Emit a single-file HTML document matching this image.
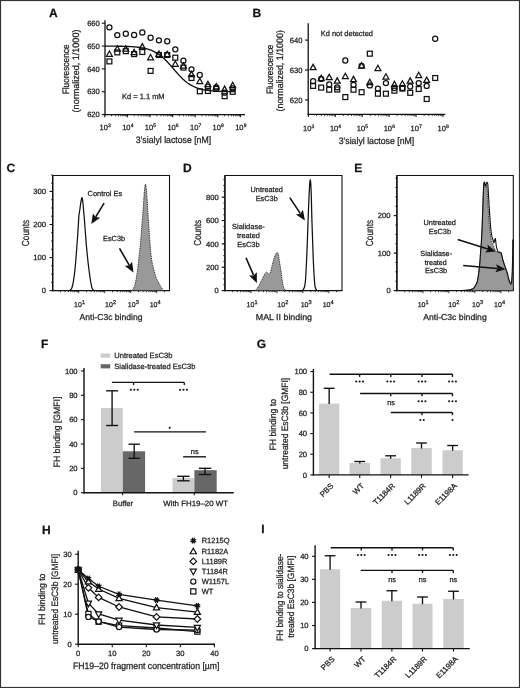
<!DOCTYPE html>
<html><head><meta charset="utf-8"><style>
html,body{margin:0;padding:0;background:#fff;}
svg{display:block;will-change:transform;}
text{font-family:"Liberation Sans",sans-serif;text-rendering:geometricPrecision;stroke:#222;stroke-width:0.25px;}
</style></head><body>
<svg width="520" height="688" viewBox="0 0 520 688">
<rect width="520" height="688" fill="#fff"/>
<text x="49.00" y="16.50" font-size="12" text-anchor="start" font-weight="bold" fill="#111" >A</text>
<text x="252.40" y="16.50" font-size="12" text-anchor="start" font-weight="bold" fill="#111" >B</text>
<text x="6.50" y="172.30" font-size="12" text-anchor="start" font-weight="bold" fill="#111" >C</text>
<text x="183.00" y="171.60" font-size="12" text-anchor="start" font-weight="bold" fill="#111" >D</text>
<text x="354.30" y="171.60" font-size="12" text-anchor="start" font-weight="bold" fill="#111" >E</text>
<text x="41.00" y="348.30" font-size="12" text-anchor="start" font-weight="bold" fill="#111" >F</text>
<text x="256.80" y="348.40" font-size="12" text-anchor="start" font-weight="bold" fill="#111" >G</text>
<text x="42.00" y="533.70" font-size="12" text-anchor="start" font-weight="bold" fill="#111" >H</text>
<text x="261.30" y="533.10" font-size="12" text-anchor="start" font-weight="bold" fill="#111" >I</text>
<line x1="105.00" y1="20.20" x2="105.00" y2="115.20" stroke="#111" stroke-width="1.3" />
<line x1="104.40" y1="114.60" x2="245.00" y2="114.60" stroke="#111" stroke-width="1.3" />
<line x1="101.80" y1="114.60" x2="105.00" y2="114.60" stroke="#111" stroke-width="1.1" />
<text x="99.80" y="117.30" font-size="7.6" text-anchor="end" font-weight="normal" fill="#222" >620</text>
<line x1="101.80" y1="91.75" x2="105.00" y2="91.75" stroke="#111" stroke-width="1.1" />
<text x="99.80" y="94.45" font-size="7.6" text-anchor="end" font-weight="normal" fill="#222" >630</text>
<line x1="101.80" y1="68.90" x2="105.00" y2="68.90" stroke="#111" stroke-width="1.1" />
<text x="99.80" y="71.60" font-size="7.6" text-anchor="end" font-weight="normal" fill="#222" >640</text>
<line x1="101.80" y1="46.05" x2="105.00" y2="46.05" stroke="#111" stroke-width="1.1" />
<text x="99.80" y="48.75" font-size="7.6" text-anchor="end" font-weight="normal" fill="#222" >650</text>
<line x1="101.80" y1="23.20" x2="105.00" y2="23.20" stroke="#111" stroke-width="1.1" />
<text x="99.80" y="25.90" font-size="7.6" text-anchor="end" font-weight="normal" fill="#222" >660</text>
<line x1="104.80" y1="114.60" x2="104.80" y2="117.20" stroke="#111" stroke-width="1.1" />
<text x="99.60" y="129.70" font-size="7.5" text-anchor="start" font-weight="normal" fill="#222" >10</text>
<text x="108.04" y="126.80" font-size="5.0" text-anchor="start" font-weight="normal" fill="#222" >3</text>
<line x1="111.60" y1="114.60" x2="111.60" y2="116.30" stroke="#111" stroke-width="0.8" />
<line x1="115.58" y1="114.60" x2="115.58" y2="116.30" stroke="#111" stroke-width="0.8" />
<line x1="118.41" y1="114.60" x2="118.41" y2="116.30" stroke="#111" stroke-width="0.8" />
<line x1="120.60" y1="114.60" x2="120.60" y2="116.30" stroke="#111" stroke-width="0.8" />
<line x1="122.39" y1="114.60" x2="122.39" y2="116.30" stroke="#111" stroke-width="0.8" />
<line x1="123.90" y1="114.60" x2="123.90" y2="116.30" stroke="#111" stroke-width="0.8" />
<line x1="125.21" y1="114.60" x2="125.21" y2="116.30" stroke="#111" stroke-width="0.8" />
<line x1="126.37" y1="114.60" x2="126.37" y2="116.30" stroke="#111" stroke-width="0.8" />
<line x1="127.40" y1="114.60" x2="127.40" y2="117.20" stroke="#111" stroke-width="1.1" />
<text x="122.20" y="129.70" font-size="7.5" text-anchor="start" font-weight="normal" fill="#222" >10</text>
<text x="130.64" y="126.80" font-size="5.0" text-anchor="start" font-weight="normal" fill="#222" >4</text>
<line x1="134.20" y1="114.60" x2="134.20" y2="116.30" stroke="#111" stroke-width="0.8" />
<line x1="138.18" y1="114.60" x2="138.18" y2="116.30" stroke="#111" stroke-width="0.8" />
<line x1="141.01" y1="114.60" x2="141.01" y2="116.30" stroke="#111" stroke-width="0.8" />
<line x1="143.20" y1="114.60" x2="143.20" y2="116.30" stroke="#111" stroke-width="0.8" />
<line x1="144.99" y1="114.60" x2="144.99" y2="116.30" stroke="#111" stroke-width="0.8" />
<line x1="146.50" y1="114.60" x2="146.50" y2="116.30" stroke="#111" stroke-width="0.8" />
<line x1="147.81" y1="114.60" x2="147.81" y2="116.30" stroke="#111" stroke-width="0.8" />
<line x1="148.97" y1="114.60" x2="148.97" y2="116.30" stroke="#111" stroke-width="0.8" />
<line x1="150.00" y1="114.60" x2="150.00" y2="117.20" stroke="#111" stroke-width="1.1" />
<text x="144.80" y="129.70" font-size="7.5" text-anchor="start" font-weight="normal" fill="#222" >10</text>
<text x="153.24" y="126.80" font-size="5.0" text-anchor="start" font-weight="normal" fill="#222" >5</text>
<line x1="156.80" y1="114.60" x2="156.80" y2="116.30" stroke="#111" stroke-width="0.8" />
<line x1="160.78" y1="114.60" x2="160.78" y2="116.30" stroke="#111" stroke-width="0.8" />
<line x1="163.61" y1="114.60" x2="163.61" y2="116.30" stroke="#111" stroke-width="0.8" />
<line x1="165.80" y1="114.60" x2="165.80" y2="116.30" stroke="#111" stroke-width="0.8" />
<line x1="167.59" y1="114.60" x2="167.59" y2="116.30" stroke="#111" stroke-width="0.8" />
<line x1="169.10" y1="114.60" x2="169.10" y2="116.30" stroke="#111" stroke-width="0.8" />
<line x1="170.41" y1="114.60" x2="170.41" y2="116.30" stroke="#111" stroke-width="0.8" />
<line x1="171.57" y1="114.60" x2="171.57" y2="116.30" stroke="#111" stroke-width="0.8" />
<line x1="172.60" y1="114.60" x2="172.60" y2="117.20" stroke="#111" stroke-width="1.1" />
<text x="167.40" y="129.70" font-size="7.5" text-anchor="start" font-weight="normal" fill="#222" >10</text>
<text x="175.84" y="126.80" font-size="5.0" text-anchor="start" font-weight="normal" fill="#222" >6</text>
<line x1="179.40" y1="114.60" x2="179.40" y2="116.30" stroke="#111" stroke-width="0.8" />
<line x1="183.38" y1="114.60" x2="183.38" y2="116.30" stroke="#111" stroke-width="0.8" />
<line x1="186.21" y1="114.60" x2="186.21" y2="116.30" stroke="#111" stroke-width="0.8" />
<line x1="188.40" y1="114.60" x2="188.40" y2="116.30" stroke="#111" stroke-width="0.8" />
<line x1="190.19" y1="114.60" x2="190.19" y2="116.30" stroke="#111" stroke-width="0.8" />
<line x1="191.70" y1="114.60" x2="191.70" y2="116.30" stroke="#111" stroke-width="0.8" />
<line x1="193.01" y1="114.60" x2="193.01" y2="116.30" stroke="#111" stroke-width="0.8" />
<line x1="194.17" y1="114.60" x2="194.17" y2="116.30" stroke="#111" stroke-width="0.8" />
<line x1="195.20" y1="114.60" x2="195.20" y2="117.20" stroke="#111" stroke-width="1.1" />
<text x="190.00" y="129.70" font-size="7.5" text-anchor="start" font-weight="normal" fill="#222" >10</text>
<text x="198.44" y="126.80" font-size="5.0" text-anchor="start" font-weight="normal" fill="#222" >7</text>
<line x1="202.00" y1="114.60" x2="202.00" y2="116.30" stroke="#111" stroke-width="0.8" />
<line x1="205.98" y1="114.60" x2="205.98" y2="116.30" stroke="#111" stroke-width="0.8" />
<line x1="208.81" y1="114.60" x2="208.81" y2="116.30" stroke="#111" stroke-width="0.8" />
<line x1="211.00" y1="114.60" x2="211.00" y2="116.30" stroke="#111" stroke-width="0.8" />
<line x1="212.79" y1="114.60" x2="212.79" y2="116.30" stroke="#111" stroke-width="0.8" />
<line x1="214.30" y1="114.60" x2="214.30" y2="116.30" stroke="#111" stroke-width="0.8" />
<line x1="215.61" y1="114.60" x2="215.61" y2="116.30" stroke="#111" stroke-width="0.8" />
<line x1="216.77" y1="114.60" x2="216.77" y2="116.30" stroke="#111" stroke-width="0.8" />
<line x1="217.80" y1="114.60" x2="217.80" y2="117.20" stroke="#111" stroke-width="1.1" />
<text x="212.60" y="129.70" font-size="7.5" text-anchor="start" font-weight="normal" fill="#222" >10</text>
<text x="221.04" y="126.80" font-size="5.0" text-anchor="start" font-weight="normal" fill="#222" >8</text>
<line x1="224.60" y1="114.60" x2="224.60" y2="116.30" stroke="#111" stroke-width="0.8" />
<line x1="228.58" y1="114.60" x2="228.58" y2="116.30" stroke="#111" stroke-width="0.8" />
<line x1="231.41" y1="114.60" x2="231.41" y2="116.30" stroke="#111" stroke-width="0.8" />
<line x1="233.60" y1="114.60" x2="233.60" y2="116.30" stroke="#111" stroke-width="0.8" />
<line x1="235.39" y1="114.60" x2="235.39" y2="116.30" stroke="#111" stroke-width="0.8" />
<line x1="236.90" y1="114.60" x2="236.90" y2="116.30" stroke="#111" stroke-width="0.8" />
<line x1="238.21" y1="114.60" x2="238.21" y2="116.30" stroke="#111" stroke-width="0.8" />
<line x1="239.37" y1="114.60" x2="239.37" y2="116.30" stroke="#111" stroke-width="0.8" />
<line x1="240.40" y1="114.60" x2="240.40" y2="117.20" stroke="#111" stroke-width="1.1" />
<text x="235.20" y="129.70" font-size="7.5" text-anchor="start" font-weight="normal" fill="#222" >10</text>
<text x="243.64" y="126.80" font-size="5.0" text-anchor="start" font-weight="normal" fill="#222" >9</text>
<text x="173.50" y="142.70" font-size="9.4" text-anchor="middle" font-weight="normal" fill="#222"  textLength="75.3" lengthAdjust="spacingAndGlyphs">3'sialyl lactose [nM]</text>
<text x="0" y="0" font-size="9.4" text-anchor="middle" fill="#222" transform="translate(68.90,69.40) rotate(-90)" textLength="49.8" lengthAdjust="spacingAndGlyphs">Fluorescence</text>
<text x="0" y="0" font-size="9.4" text-anchor="middle" fill="#222" transform="translate(79.30,71.00) rotate(-90)" textLength="82.8" lengthAdjust="spacingAndGlyphs">(normalized, 1/1000)</text>
<text x="122.00" y="98.60" font-size="7.5" text-anchor="start" font-weight="normal" fill="#222"  textLength="42.6" lengthAdjust="spacingAndGlyphs">Kd = 1.1 mM</text>
<polyline points="105.0,46.09 106.0,46.10 107.0,46.10 108.0,46.11 109.0,46.11 110.0,46.12 111.0,46.13 112.0,46.14 113.0,46.15 114.0,46.16 115.0,46.17 116.0,46.18 117.0,46.19 118.0,46.21 119.0,46.23 120.0,46.24 121.0,46.27 122.0,46.29 123.0,46.31 124.0,46.34 125.0,46.37 126.0,46.41 127.0,46.45 128.0,46.49 129.0,46.53 130.0,46.59 131.0,46.64 132.0,46.70 133.0,46.77 134.0,46.85 135.0,46.93 136.0,47.03 137.0,47.13 138.0,47.24 139.0,47.37 140.0,47.50 141.0,47.65 142.0,47.82 143.0,48.00 144.0,48.20 145.0,48.42 146.0,48.66 147.0,48.92 148.0,49.20 149.0,49.52 150.0,49.86 151.0,50.23 152.0,50.63 153.0,51.07 154.0,51.54 155.0,52.06 156.0,52.61 157.0,53.20 158.0,53.84 159.0,54.52 160.0,55.24 161.0,56.01 162.0,56.83 163.0,57.69 164.0,58.60 165.0,59.55 166.0,60.54 167.0,61.56 168.0,62.62 169.0,63.71 170.0,64.83 171.0,65.96 172.0,67.12 173.0,68.28 174.0,69.44 175.0,70.60 176.0,71.75 177.0,72.89 178.0,74.01 179.0,75.10 180.0,76.16 181.0,77.19 182.0,78.18 183.0,79.14 184.0,80.04 185.0,80.91 186.0,81.73 187.0,82.50 188.0,83.23 189.0,83.92 190.0,84.56 191.0,85.15 192.0,85.71 193.0,86.22 194.0,86.70 195.0,87.14 196.0,87.54 197.0,87.92 198.0,88.26 199.0,88.57 200.0,88.86 201.0,89.13 202.0,89.37 203.0,89.59 204.0,89.79 205.0,89.97 206.0,90.14 207.0,90.29 208.0,90.43 209.0,90.55 210.0,90.66 211.0,90.77 212.0,90.86 213.0,90.94 214.0,91.02 215.0,91.09 216.0,91.15 217.0,91.21 218.0,91.26 219.0,91.31 220.0,91.35 221.0,91.39 222.0,91.42 223.0,91.46 224.0,91.48 225.0,91.51 226.0,91.53 227.0,91.55 228.0,91.57 229.0,91.59 230.0,91.61 231.0,91.62 232.0,91.63 233.0,91.64 234.0,91.65 235.0,91.66" fill="none" stroke="#111" stroke-width="1.35"/>
<circle cx="109.40" cy="27.30" r="2.55" fill="none" stroke="#111" stroke-width="1.25"/>
<polygon points="106.45,56.31 112.35,56.31 109.40,51.00" fill="none" stroke="#111" stroke-width="1.25" stroke-linejoin="miter"/>
<rect x="106.95" y="58.95" width="4.90" height="4.90" fill="none" stroke="#111" stroke-width="1.25"/>
<circle cx="117.30" cy="35.10" r="2.55" fill="none" stroke="#111" stroke-width="1.25"/>
<polygon points="114.35,51.11 120.25,51.11 117.30,45.80" fill="none" stroke="#111" stroke-width="1.25" stroke-linejoin="miter"/>
<rect x="114.85" y="49.95" width="4.90" height="4.90" fill="none" stroke="#111" stroke-width="1.25"/>
<circle cx="125.80" cy="33.70" r="2.55" fill="none" stroke="#111" stroke-width="1.25"/>
<polygon points="122.85,51.21 128.75,51.21 125.80,45.90" fill="none" stroke="#111" stroke-width="1.25" stroke-linejoin="miter"/>
<rect x="123.35" y="48.75" width="4.90" height="4.90" fill="none" stroke="#111" stroke-width="1.25"/>
<circle cx="134.10" cy="35.00" r="2.55" fill="none" stroke="#111" stroke-width="1.25"/>
<polygon points="131.15,54.61 137.05,54.61 134.10,49.30" fill="none" stroke="#111" stroke-width="1.25" stroke-linejoin="miter"/>
<rect x="131.65" y="51.65" width="4.90" height="4.90" fill="none" stroke="#111" stroke-width="1.25"/>
<circle cx="142.30" cy="32.50" r="2.55" fill="none" stroke="#111" stroke-width="1.25"/>
<polygon points="139.35,48.91 145.25,48.91 142.30,43.60" fill="none" stroke="#111" stroke-width="1.25" stroke-linejoin="miter"/>
<rect x="139.85" y="49.55" width="4.90" height="4.90" fill="none" stroke="#111" stroke-width="1.25"/>
<circle cx="150.60" cy="37.70" r="2.55" fill="none" stroke="#111" stroke-width="1.25"/>
<polygon points="147.65,59.81 153.55,59.81 150.60,54.50" fill="none" stroke="#111" stroke-width="1.25" stroke-linejoin="miter"/>
<rect x="148.15" y="68.45" width="4.90" height="4.90" fill="none" stroke="#111" stroke-width="1.25"/>
<circle cx="158.90" cy="40.30" r="2.55" fill="none" stroke="#111" stroke-width="1.25"/>
<polygon points="155.95,56.31 161.85,56.31 158.90,51.00" fill="none" stroke="#111" stroke-width="1.25" stroke-linejoin="miter"/>
<rect x="156.45" y="52.55" width="4.90" height="4.90" fill="none" stroke="#111" stroke-width="1.25"/>
<circle cx="167.20" cy="41.20" r="2.55" fill="none" stroke="#111" stroke-width="1.25"/>
<polygon points="164.25,56.61 170.15,56.61 167.20,51.30" fill="none" stroke="#111" stroke-width="1.25" stroke-linejoin="miter"/>
<rect x="164.75" y="52.55" width="4.90" height="4.90" fill="none" stroke="#111" stroke-width="1.25"/>
<circle cx="175.30" cy="49.30" r="2.55" fill="none" stroke="#111" stroke-width="1.25"/>
<polygon points="172.35,66.31 178.25,66.31 175.30,61.00" fill="none" stroke="#111" stroke-width="1.25" stroke-linejoin="miter"/>
<rect x="172.85" y="55.25" width="4.90" height="4.90" fill="none" stroke="#111" stroke-width="1.25"/>
<circle cx="183.40" cy="60.70" r="2.55" fill="none" stroke="#111" stroke-width="1.25"/>
<polygon points="180.45,68.11 186.35,68.11 183.40,62.80" fill="none" stroke="#111" stroke-width="1.25" stroke-linejoin="miter"/>
<rect x="180.95" y="65.15" width="4.90" height="4.90" fill="none" stroke="#111" stroke-width="1.25"/>
<circle cx="191.50" cy="69.30" r="2.55" fill="none" stroke="#111" stroke-width="1.25"/>
<polygon points="188.55,76.71 194.45,76.71 191.50,71.40" fill="none" stroke="#111" stroke-width="1.25" stroke-linejoin="miter"/>
<rect x="189.05" y="75.55" width="4.90" height="4.90" fill="none" stroke="#111" stroke-width="1.25"/>
<circle cx="199.80" cy="75.00" r="2.55" fill="none" stroke="#111" stroke-width="1.25"/>
<polygon points="196.85,83.61 202.75,83.61 199.80,78.30" fill="none" stroke="#111" stroke-width="1.25" stroke-linejoin="miter"/>
<rect x="197.35" y="88.85" width="4.90" height="4.90" fill="none" stroke="#111" stroke-width="1.25"/>
<circle cx="207.90" cy="86.60" r="2.55" fill="none" stroke="#111" stroke-width="1.25"/>
<polygon points="204.95,86.61 210.85,86.61 207.90,81.30" fill="none" stroke="#111" stroke-width="1.25" stroke-linejoin="miter"/>
<rect x="205.45" y="88.55" width="4.90" height="4.90" fill="none" stroke="#111" stroke-width="1.25"/>
<circle cx="216.20" cy="87.50" r="2.55" fill="none" stroke="#111" stroke-width="1.25"/>
<polygon points="213.25,88.81 219.15,88.81 216.20,83.50" fill="none" stroke="#111" stroke-width="1.25" stroke-linejoin="miter"/>
<rect x="213.75" y="86.45" width="4.90" height="4.90" fill="none" stroke="#111" stroke-width="1.25"/>
<circle cx="224.60" cy="92.70" r="2.55" fill="none" stroke="#111" stroke-width="1.25"/>
<polygon points="221.65,91.41 227.55,91.41 224.60,86.10" fill="none" stroke="#111" stroke-width="1.25" stroke-linejoin="miter"/>
<rect x="222.15" y="93.75" width="4.90" height="4.90" fill="none" stroke="#111" stroke-width="1.25"/>
<circle cx="232.70" cy="88.40" r="2.55" fill="none" stroke="#111" stroke-width="1.25"/>
<polygon points="229.75,87.61 235.65,87.61 232.70,82.30" fill="none" stroke="#111" stroke-width="1.25" stroke-linejoin="miter"/>
<rect x="230.25" y="89.35" width="4.90" height="4.90" fill="none" stroke="#111" stroke-width="1.25"/>
<line x1="308.20" y1="23.30" x2="308.20" y2="115.00" stroke="#111" stroke-width="1.3" />
<line x1="307.60" y1="114.40" x2="445.30" y2="114.40" stroke="#111" stroke-width="1.3" />
<line x1="305.00" y1="99.90" x2="308.20" y2="99.90" stroke="#111" stroke-width="1.1" />
<text x="302.40" y="102.60" font-size="7.6" text-anchor="end" font-weight="normal" fill="#222" >620</text>
<line x1="305.00" y1="70.00" x2="308.20" y2="70.00" stroke="#111" stroke-width="1.1" />
<text x="302.40" y="72.70" font-size="7.6" text-anchor="end" font-weight="normal" fill="#222" >630</text>
<line x1="305.00" y1="40.10" x2="308.20" y2="40.10" stroke="#111" stroke-width="1.1" />
<text x="302.40" y="42.80" font-size="7.6" text-anchor="end" font-weight="normal" fill="#222" >640</text>
<line x1="308.40" y1="114.40" x2="308.40" y2="117.00" stroke="#111" stroke-width="1.1" />
<text x="303.00" y="130.90" font-size="7.5" text-anchor="start" font-weight="normal" fill="#222" >10</text>
<text x="311.44" y="128.00" font-size="5.0" text-anchor="start" font-weight="normal" fill="#222" >3</text>
<line x1="316.50" y1="114.40" x2="316.50" y2="116.10" stroke="#111" stroke-width="0.8" />
<line x1="321.23" y1="114.40" x2="321.23" y2="116.10" stroke="#111" stroke-width="0.8" />
<line x1="324.60" y1="114.40" x2="324.60" y2="116.10" stroke="#111" stroke-width="0.8" />
<line x1="327.20" y1="114.40" x2="327.20" y2="116.10" stroke="#111" stroke-width="0.8" />
<line x1="329.33" y1="114.40" x2="329.33" y2="116.10" stroke="#111" stroke-width="0.8" />
<line x1="331.13" y1="114.40" x2="331.13" y2="116.10" stroke="#111" stroke-width="0.8" />
<line x1="332.69" y1="114.40" x2="332.69" y2="116.10" stroke="#111" stroke-width="0.8" />
<line x1="334.07" y1="114.40" x2="334.07" y2="116.10" stroke="#111" stroke-width="0.8" />
<line x1="335.30" y1="114.40" x2="335.30" y2="117.00" stroke="#111" stroke-width="1.1" />
<text x="329.90" y="130.90" font-size="7.5" text-anchor="start" font-weight="normal" fill="#222" >10</text>
<text x="338.34" y="128.00" font-size="5.0" text-anchor="start" font-weight="normal" fill="#222" >4</text>
<line x1="343.40" y1="114.40" x2="343.40" y2="116.10" stroke="#111" stroke-width="0.8" />
<line x1="348.13" y1="114.40" x2="348.13" y2="116.10" stroke="#111" stroke-width="0.8" />
<line x1="351.50" y1="114.40" x2="351.50" y2="116.10" stroke="#111" stroke-width="0.8" />
<line x1="354.10" y1="114.40" x2="354.10" y2="116.10" stroke="#111" stroke-width="0.8" />
<line x1="356.23" y1="114.40" x2="356.23" y2="116.10" stroke="#111" stroke-width="0.8" />
<line x1="358.03" y1="114.40" x2="358.03" y2="116.10" stroke="#111" stroke-width="0.8" />
<line x1="359.59" y1="114.40" x2="359.59" y2="116.10" stroke="#111" stroke-width="0.8" />
<line x1="360.97" y1="114.40" x2="360.97" y2="116.10" stroke="#111" stroke-width="0.8" />
<line x1="362.20" y1="114.40" x2="362.20" y2="117.00" stroke="#111" stroke-width="1.1" />
<text x="356.80" y="130.90" font-size="7.5" text-anchor="start" font-weight="normal" fill="#222" >10</text>
<text x="365.24" y="128.00" font-size="5.0" text-anchor="start" font-weight="normal" fill="#222" >5</text>
<line x1="370.30" y1="114.40" x2="370.30" y2="116.10" stroke="#111" stroke-width="0.8" />
<line x1="375.03" y1="114.40" x2="375.03" y2="116.10" stroke="#111" stroke-width="0.8" />
<line x1="378.40" y1="114.40" x2="378.40" y2="116.10" stroke="#111" stroke-width="0.8" />
<line x1="381.00" y1="114.40" x2="381.00" y2="116.10" stroke="#111" stroke-width="0.8" />
<line x1="383.13" y1="114.40" x2="383.13" y2="116.10" stroke="#111" stroke-width="0.8" />
<line x1="384.93" y1="114.40" x2="384.93" y2="116.10" stroke="#111" stroke-width="0.8" />
<line x1="386.49" y1="114.40" x2="386.49" y2="116.10" stroke="#111" stroke-width="0.8" />
<line x1="387.87" y1="114.40" x2="387.87" y2="116.10" stroke="#111" stroke-width="0.8" />
<line x1="389.10" y1="114.40" x2="389.10" y2="117.00" stroke="#111" stroke-width="1.1" />
<text x="383.70" y="130.90" font-size="7.5" text-anchor="start" font-weight="normal" fill="#222" >10</text>
<text x="392.14" y="128.00" font-size="5.0" text-anchor="start" font-weight="normal" fill="#222" >6</text>
<line x1="397.20" y1="114.40" x2="397.20" y2="116.10" stroke="#111" stroke-width="0.8" />
<line x1="401.93" y1="114.40" x2="401.93" y2="116.10" stroke="#111" stroke-width="0.8" />
<line x1="405.30" y1="114.40" x2="405.30" y2="116.10" stroke="#111" stroke-width="0.8" />
<line x1="407.90" y1="114.40" x2="407.90" y2="116.10" stroke="#111" stroke-width="0.8" />
<line x1="410.03" y1="114.40" x2="410.03" y2="116.10" stroke="#111" stroke-width="0.8" />
<line x1="411.83" y1="114.40" x2="411.83" y2="116.10" stroke="#111" stroke-width="0.8" />
<line x1="413.39" y1="114.40" x2="413.39" y2="116.10" stroke="#111" stroke-width="0.8" />
<line x1="414.77" y1="114.40" x2="414.77" y2="116.10" stroke="#111" stroke-width="0.8" />
<line x1="416.00" y1="114.40" x2="416.00" y2="117.00" stroke="#111" stroke-width="1.1" />
<text x="410.60" y="130.90" font-size="7.5" text-anchor="start" font-weight="normal" fill="#222" >10</text>
<text x="419.04" y="128.00" font-size="5.0" text-anchor="start" font-weight="normal" fill="#222" >7</text>
<line x1="424.10" y1="114.40" x2="424.10" y2="116.10" stroke="#111" stroke-width="0.8" />
<line x1="428.83" y1="114.40" x2="428.83" y2="116.10" stroke="#111" stroke-width="0.8" />
<line x1="432.20" y1="114.40" x2="432.20" y2="116.10" stroke="#111" stroke-width="0.8" />
<line x1="434.80" y1="114.40" x2="434.80" y2="116.10" stroke="#111" stroke-width="0.8" />
<line x1="436.93" y1="114.40" x2="436.93" y2="116.10" stroke="#111" stroke-width="0.8" />
<line x1="438.73" y1="114.40" x2="438.73" y2="116.10" stroke="#111" stroke-width="0.8" />
<line x1="440.29" y1="114.40" x2="440.29" y2="116.10" stroke="#111" stroke-width="0.8" />
<line x1="441.67" y1="114.40" x2="441.67" y2="116.10" stroke="#111" stroke-width="0.8" />
<line x1="442.90" y1="114.40" x2="442.90" y2="117.00" stroke="#111" stroke-width="1.1" />
<text x="437.50" y="130.90" font-size="7.5" text-anchor="start" font-weight="normal" fill="#222" >10</text>
<text x="445.94" y="128.00" font-size="5.0" text-anchor="start" font-weight="normal" fill="#222" >8</text>
<text x="376.50" y="144.10" font-size="9.4" text-anchor="middle" font-weight="normal" fill="#222"  textLength="75.5" lengthAdjust="spacingAndGlyphs">3'sialyl lactose [nM]</text>
<text x="0" y="0" font-size="9.4" text-anchor="middle" fill="#222" transform="translate(272.90,69.30) rotate(-90)" textLength="49.5" lengthAdjust="spacingAndGlyphs">Fluorescence</text>
<text x="0" y="0" font-size="9.4" text-anchor="middle" fill="#222" transform="translate(283.30,70.80) rotate(-90)" textLength="81.3" lengthAdjust="spacingAndGlyphs">(normalized, 1/1000)</text>
<text x="320.70" y="35.60" font-size="7.5" text-anchor="start" font-weight="normal" fill="#222"  textLength="52.3" lengthAdjust="spacingAndGlyphs">Kd not detected</text>
<polygon points="310.15,69.71 316.05,69.71 313.10,64.40" fill="none" stroke="#111" stroke-width="1.25" stroke-linejoin="miter"/>
<circle cx="313.10" cy="81.20" r="2.55" fill="none" stroke="#111" stroke-width="1.25"/>
<rect x="310.65" y="83.45" width="4.90" height="4.90" fill="none" stroke="#111" stroke-width="1.25"/>
<polygon points="318.25,80.71 324.15,80.71 321.20,75.40" fill="none" stroke="#111" stroke-width="1.25" stroke-linejoin="miter"/>
<circle cx="321.20" cy="78.90" r="2.55" fill="none" stroke="#111" stroke-width="1.25"/>
<rect x="318.75" y="85.15" width="4.90" height="4.90" fill="none" stroke="#111" stroke-width="1.25"/>
<polygon points="326.25,79.61 332.15,79.61 329.20,74.30" fill="none" stroke="#111" stroke-width="1.25" stroke-linejoin="miter"/>
<circle cx="329.20" cy="84.40" r="2.55" fill="none" stroke="#111" stroke-width="1.25"/>
<rect x="326.75" y="87.25" width="4.90" height="4.90" fill="none" stroke="#111" stroke-width="1.25"/>
<polygon points="334.25,83.21 340.15,83.21 337.20,77.90" fill="none" stroke="#111" stroke-width="1.25" stroke-linejoin="miter"/>
<circle cx="337.20" cy="87.30" r="2.55" fill="none" stroke="#111" stroke-width="1.25"/>
<rect x="334.75" y="87.05" width="4.90" height="4.90" fill="none" stroke="#111" stroke-width="1.25"/>
<polygon points="342.35,78.51 348.25,78.51 345.30,73.20" fill="none" stroke="#111" stroke-width="1.25" stroke-linejoin="miter"/>
<circle cx="345.30" cy="60.50" r="2.55" fill="none" stroke="#111" stroke-width="1.25"/>
<rect x="342.85" y="94.65" width="4.90" height="4.90" fill="none" stroke="#111" stroke-width="1.25"/>
<polygon points="350.55,81.71 356.45,81.71 353.50,76.40" fill="none" stroke="#111" stroke-width="1.25" stroke-linejoin="miter"/>
<circle cx="353.50" cy="84.80" r="2.55" fill="none" stroke="#111" stroke-width="1.25"/>
<rect x="351.05" y="87.25" width="4.90" height="4.90" fill="none" stroke="#111" stroke-width="1.25"/>
<polygon points="358.65,68.01 364.55,68.01 361.60,62.70" fill="none" stroke="#111" stroke-width="1.25" stroke-linejoin="miter"/>
<circle cx="361.60" cy="65.80" r="2.55" fill="none" stroke="#111" stroke-width="1.25"/>
<rect x="359.15" y="89.75" width="4.90" height="4.90" fill="none" stroke="#111" stroke-width="1.25"/>
<polygon points="366.85,84.51 372.75,84.51 369.80,79.20" fill="none" stroke="#111" stroke-width="1.25" stroke-linejoin="miter"/>
<circle cx="369.80" cy="85.40" r="2.55" fill="none" stroke="#111" stroke-width="1.25"/>
<rect x="367.35" y="51.25" width="4.90" height="4.90" fill="none" stroke="#111" stroke-width="1.25"/>
<polygon points="374.95,70.51 380.85,70.51 377.90,65.20" fill="none" stroke="#111" stroke-width="1.25" stroke-linejoin="miter"/>
<circle cx="377.90" cy="88.60" r="2.55" fill="none" stroke="#111" stroke-width="1.25"/>
<rect x="375.45" y="91.25" width="4.90" height="4.90" fill="none" stroke="#111" stroke-width="1.25"/>
<polygon points="382.95,79.01 388.85,79.01 385.90,73.70" fill="none" stroke="#111" stroke-width="1.25" stroke-linejoin="miter"/>
<circle cx="385.90" cy="83.10" r="2.55" fill="none" stroke="#111" stroke-width="1.25"/>
<rect x="383.45" y="91.25" width="4.90" height="4.90" fill="none" stroke="#111" stroke-width="1.25"/>
<polygon points="391.45,86.61 397.35,86.61 394.40,81.30" fill="none" stroke="#111" stroke-width="1.25" stroke-linejoin="miter"/>
<circle cx="394.40" cy="88.00" r="2.55" fill="none" stroke="#111" stroke-width="1.25"/>
<rect x="391.95" y="88.25" width="4.90" height="4.90" fill="none" stroke="#111" stroke-width="1.25"/>
<polygon points="399.45,86.01 405.35,86.01 402.40,80.70" fill="none" stroke="#111" stroke-width="1.25" stroke-linejoin="miter"/>
<circle cx="402.40" cy="88.00" r="2.55" fill="none" stroke="#111" stroke-width="1.25"/>
<rect x="399.95" y="86.15" width="4.90" height="4.90" fill="none" stroke="#111" stroke-width="1.25"/>
<polygon points="407.25,83.21 413.15,83.21 410.20,77.90" fill="none" stroke="#111" stroke-width="1.25" stroke-linejoin="miter"/>
<circle cx="410.20" cy="86.50" r="2.55" fill="none" stroke="#111" stroke-width="1.25"/>
<rect x="407.75" y="90.35" width="4.90" height="4.90" fill="none" stroke="#111" stroke-width="1.25"/>
<polygon points="415.75,77.51 421.65,77.51 418.70,72.20" fill="none" stroke="#111" stroke-width="1.25" stroke-linejoin="miter"/>
<circle cx="418.70" cy="83.10" r="2.55" fill="none" stroke="#111" stroke-width="1.25"/>
<rect x="416.25" y="86.55" width="4.90" height="4.90" fill="none" stroke="#111" stroke-width="1.25"/>
<polygon points="423.75,82.41 429.65,82.41 426.70,77.10" fill="none" stroke="#111" stroke-width="1.25" stroke-linejoin="miter"/>
<circle cx="426.70" cy="85.90" r="2.55" fill="none" stroke="#111" stroke-width="1.25"/>
<rect x="424.25" y="96.55" width="4.90" height="4.90" fill="none" stroke="#111" stroke-width="1.25"/>
<circle cx="435.20" cy="38.70" r="2.55" fill="none" stroke="#111" stroke-width="1.25"/>
<rect x="432.75" y="75.55" width="4.90" height="4.90" fill="none" stroke="#111" stroke-width="1.25"/>
<path d="M52.70,290.60V175.50H169.50V290.60" fill="none" stroke="#111" stroke-width="1.1"/>
<line x1="52.10" y1="290.60" x2="170.00" y2="290.60" stroke="#111" stroke-width="1.3" />
<line x1="52.70" y1="175.50" x2="52.70" y2="291.20" stroke="#111" stroke-width="1.3" />
<line x1="49.50" y1="290.60" x2="52.70" y2="290.60" stroke="#111" stroke-width="1.1" />
<text x="46.00" y="293.25" font-size="7.5" text-anchor="end" font-weight="normal" fill="#222" >0</text>
<line x1="49.50" y1="257.55" x2="52.70" y2="257.55" stroke="#111" stroke-width="1.1" />
<text x="46.00" y="260.20" font-size="7.5" text-anchor="end" font-weight="normal" fill="#222"  textLength="12.75" lengthAdjust="spacingAndGlyphs">100</text>
<line x1="49.50" y1="224.50" x2="52.70" y2="224.50" stroke="#111" stroke-width="1.1" />
<text x="46.00" y="227.15" font-size="7.5" text-anchor="end" font-weight="normal" fill="#222"  textLength="12.75" lengthAdjust="spacingAndGlyphs">200</text>
<line x1="49.50" y1="191.45" x2="52.70" y2="191.45" stroke="#111" stroke-width="1.1" />
<text x="46.00" y="194.10" font-size="7.5" text-anchor="end" font-weight="normal" fill="#222"  textLength="12.75" lengthAdjust="spacingAndGlyphs">300</text>
<line x1="51.10" y1="290.60" x2="52.70" y2="290.60" stroke="#111" stroke-width="0.9" />
<line x1="51.10" y1="282.34" x2="52.70" y2="282.34" stroke="#111" stroke-width="0.9" />
<line x1="51.10" y1="274.08" x2="52.70" y2="274.08" stroke="#111" stroke-width="0.9" />
<line x1="51.10" y1="265.81" x2="52.70" y2="265.81" stroke="#111" stroke-width="0.9" />
<line x1="51.10" y1="257.55" x2="52.70" y2="257.55" stroke="#111" stroke-width="0.9" />
<line x1="51.10" y1="249.29" x2="52.70" y2="249.29" stroke="#111" stroke-width="0.9" />
<line x1="51.10" y1="241.03" x2="52.70" y2="241.03" stroke="#111" stroke-width="0.9" />
<line x1="51.10" y1="232.76" x2="52.70" y2="232.76" stroke="#111" stroke-width="0.9" />
<line x1="51.10" y1="224.50" x2="52.70" y2="224.50" stroke="#111" stroke-width="0.9" />
<line x1="51.10" y1="216.24" x2="52.70" y2="216.24" stroke="#111" stroke-width="0.9" />
<line x1="51.10" y1="207.98" x2="52.70" y2="207.98" stroke="#111" stroke-width="0.9" />
<line x1="51.10" y1="199.71" x2="52.70" y2="199.71" stroke="#111" stroke-width="0.9" />
<line x1="51.10" y1="191.45" x2="52.70" y2="191.45" stroke="#111" stroke-width="0.9" />
<line x1="51.10" y1="183.19" x2="52.70" y2="183.19" stroke="#111" stroke-width="0.9" />
<line x1="51.10" y1="174.93" x2="52.70" y2="174.93" stroke="#111" stroke-width="0.9" />
<line x1="60.53" y1="290.60" x2="60.53" y2="292.20" stroke="#111" stroke-width="0.85" />
<line x1="65.11" y1="290.60" x2="65.11" y2="292.20" stroke="#111" stroke-width="0.85" />
<line x1="68.35" y1="290.60" x2="68.35" y2="292.20" stroke="#111" stroke-width="0.85" />
<line x1="70.87" y1="290.60" x2="70.87" y2="292.20" stroke="#111" stroke-width="0.85" />
<line x1="72.93" y1="290.60" x2="72.93" y2="292.20" stroke="#111" stroke-width="0.85" />
<line x1="74.67" y1="290.60" x2="74.67" y2="292.20" stroke="#111" stroke-width="0.85" />
<line x1="76.18" y1="290.60" x2="76.18" y2="292.20" stroke="#111" stroke-width="0.85" />
<line x1="77.51" y1="290.60" x2="77.51" y2="292.20" stroke="#111" stroke-width="0.85" />
<line x1="78.70" y1="290.60" x2="78.70" y2="293.20" stroke="#111" stroke-width="0.85" />
<line x1="86.53" y1="290.60" x2="86.53" y2="292.20" stroke="#111" stroke-width="0.85" />
<line x1="91.11" y1="290.60" x2="91.11" y2="292.20" stroke="#111" stroke-width="0.85" />
<line x1="94.35" y1="290.60" x2="94.35" y2="292.20" stroke="#111" stroke-width="0.85" />
<line x1="96.87" y1="290.60" x2="96.87" y2="292.20" stroke="#111" stroke-width="0.85" />
<line x1="98.93" y1="290.60" x2="98.93" y2="292.20" stroke="#111" stroke-width="0.85" />
<line x1="100.67" y1="290.60" x2="100.67" y2="292.20" stroke="#111" stroke-width="0.85" />
<line x1="102.18" y1="290.60" x2="102.18" y2="292.20" stroke="#111" stroke-width="0.85" />
<line x1="103.51" y1="290.60" x2="103.51" y2="292.20" stroke="#111" stroke-width="0.85" />
<line x1="104.70" y1="290.60" x2="104.70" y2="293.20" stroke="#111" stroke-width="0.85" />
<line x1="112.53" y1="290.60" x2="112.53" y2="292.20" stroke="#111" stroke-width="0.85" />
<line x1="117.11" y1="290.60" x2="117.11" y2="292.20" stroke="#111" stroke-width="0.85" />
<line x1="120.35" y1="290.60" x2="120.35" y2="292.20" stroke="#111" stroke-width="0.85" />
<line x1="122.87" y1="290.60" x2="122.87" y2="292.20" stroke="#111" stroke-width="0.85" />
<line x1="124.93" y1="290.60" x2="124.93" y2="292.20" stroke="#111" stroke-width="0.85" />
<line x1="126.67" y1="290.60" x2="126.67" y2="292.20" stroke="#111" stroke-width="0.85" />
<line x1="128.18" y1="290.60" x2="128.18" y2="292.20" stroke="#111" stroke-width="0.85" />
<line x1="129.51" y1="290.60" x2="129.51" y2="292.20" stroke="#111" stroke-width="0.85" />
<line x1="130.70" y1="290.60" x2="130.70" y2="293.20" stroke="#111" stroke-width="0.85" />
<line x1="138.53" y1="290.60" x2="138.53" y2="292.20" stroke="#111" stroke-width="0.85" />
<line x1="143.11" y1="290.60" x2="143.11" y2="292.20" stroke="#111" stroke-width="0.85" />
<line x1="146.35" y1="290.60" x2="146.35" y2="292.20" stroke="#111" stroke-width="0.85" />
<line x1="148.87" y1="290.60" x2="148.87" y2="292.20" stroke="#111" stroke-width="0.85" />
<line x1="150.93" y1="290.60" x2="150.93" y2="292.20" stroke="#111" stroke-width="0.85" />
<line x1="152.67" y1="290.60" x2="152.67" y2="292.20" stroke="#111" stroke-width="0.85" />
<line x1="154.18" y1="290.60" x2="154.18" y2="292.20" stroke="#111" stroke-width="0.85" />
<line x1="155.51" y1="290.60" x2="155.51" y2="292.20" stroke="#111" stroke-width="0.85" />
<line x1="156.70" y1="290.60" x2="156.70" y2="293.20" stroke="#111" stroke-width="0.85" />
<line x1="164.53" y1="290.60" x2="164.53" y2="292.20" stroke="#111" stroke-width="0.85" />
<text x="74.00" y="306.90" font-size="7.0" text-anchor="start" font-weight="normal" fill="#222" >10</text>
<text x="81.88" y="304.10" font-size="5.6" text-anchor="start" font-weight="normal" fill="#222" >1</text>
<text x="105.00" y="306.90" font-size="7.0" text-anchor="start" font-weight="normal" fill="#222" >10</text>
<text x="112.88" y="304.10" font-size="5.6" text-anchor="start" font-weight="normal" fill="#222" >2</text>
<text x="127.80" y="306.90" font-size="7.0" text-anchor="start" font-weight="normal" fill="#222" >10</text>
<text x="135.68" y="304.10" font-size="5.6" text-anchor="start" font-weight="normal" fill="#222" >3</text>
<text x="149.70" y="306.90" font-size="7.0" text-anchor="start" font-weight="normal" fill="#222" >10</text>
<text x="157.58" y="304.10" font-size="5.6" text-anchor="start" font-weight="normal" fill="#222" >4</text>
<text x="111.05" y="319.80" font-size="8.6" text-anchor="middle" font-weight="normal" fill="#222"  textLength="62.9" lengthAdjust="spacingAndGlyphs">Anti-C3c binding</text>
<text x="0" y="0" font-size="10.2" text-anchor="middle" fill="#222" transform="translate(28.60,233.00) rotate(-90)" textLength="26.3" lengthAdjust="spacingAndGlyphs">Counts</text>
<path d="M131.50,290.50C131.83,290.13 132.87,289.47 133.50,288.30C134.13,287.13 134.78,285.55 135.30,283.50C135.82,281.45 136.20,278.42 136.60,276.00C137.00,273.58 137.27,272.50 137.70,269.00C138.13,265.50 138.72,259.50 139.20,255.00C139.68,250.50 140.17,246.83 140.60,242.00C141.03,237.17 141.43,230.67 141.80,226.00C142.17,221.33 142.47,218.50 142.80,214.00C143.13,209.50 143.50,203.17 143.80,199.00C144.10,194.83 144.33,191.45 144.60,189.00C144.87,186.55 145.13,184.47 145.40,184.30C145.67,184.13 145.92,185.55 146.20,188.00C146.48,190.45 146.73,193.67 147.10,199.00C147.47,204.33 147.93,212.83 148.40,220.00C148.87,227.17 149.42,235.83 149.90,242.00C150.38,248.17 150.87,253.25 151.30,257.00C151.73,260.75 152.12,262.58 152.50,264.50C152.88,266.42 153.22,267.00 153.60,268.50C153.98,270.00 154.30,271.75 154.80,273.50C155.30,275.25 155.93,277.42 156.60,279.00C157.27,280.58 158.07,281.67 158.80,283.00C159.53,284.33 160.22,285.75 161.00,287.00C161.78,288.25 163.08,289.92 163.50,290.50Z" fill="#999999" stroke="#1a1a1a" stroke-width="1.0" stroke-dasharray="0.9,0.9"/>
<path d="M69.50,290.50C69.83,290.22 70.93,289.88 71.50,288.80C72.07,287.72 72.45,286.13 72.90,284.00C73.35,281.87 73.80,279.00 74.20,276.00C74.60,273.00 74.95,269.67 75.30,266.00C75.65,262.33 75.98,258.00 76.30,254.00C76.62,250.00 76.90,246.17 77.20,242.00C77.50,237.83 77.82,233.33 78.10,229.00C78.38,224.67 78.62,219.17 78.90,216.00C79.18,212.83 79.52,212.00 79.80,210.00C80.08,208.00 80.33,205.75 80.60,204.00C80.87,202.25 81.17,200.58 81.40,199.50C81.63,198.42 81.80,197.42 82.00,197.50C82.20,197.58 82.37,198.25 82.60,200.00C82.83,201.75 83.12,205.00 83.40,208.00C83.68,211.00 84.00,214.33 84.30,218.00C84.60,221.67 84.90,226.00 85.20,230.00C85.50,234.00 85.75,237.83 86.10,242.00C86.45,246.17 86.90,251.00 87.30,255.00C87.70,259.00 88.08,262.50 88.50,266.00C88.92,269.50 89.40,273.17 89.80,276.00C90.20,278.83 90.50,280.92 90.90,283.00C91.30,285.08 91.68,287.25 92.20,288.50C92.72,289.75 93.70,290.17 94.00,290.50" fill="none" stroke="#111" stroke-width="1.25"/>
<line x1="104.10" y1="203.20" x2="95.74" y2="216.85" stroke="#111" stroke-width="1.6" />
<polygon points="91.30,224.10 92.94,213.38 95.58,217.11 100.10,217.77" fill="#111"/>
<line x1="119.50" y1="248.40" x2="129.22" y2="265.06" stroke="#111" stroke-width="1.6" />
<polygon points="133.50,272.40 124.83,265.88 129.37,265.32 132.09,261.65" fill="#111"/>
<text x="104.90" y="195.80" font-size="7.4" text-anchor="middle" font-weight="normal" fill="#222"  textLength="34.8" lengthAdjust="spacingAndGlyphs">Control Es</text>
<text x="114.05" y="241.20" font-size="7.4" text-anchor="middle" font-weight="normal" fill="#222"  textLength="22.1" lengthAdjust="spacingAndGlyphs">EsC3b</text>
<path d="M224.90,290.60V175.50H342.00V290.60" fill="none" stroke="#111" stroke-width="1.1"/>
<line x1="224.30" y1="290.60" x2="342.50" y2="290.60" stroke="#111" stroke-width="1.3" />
<line x1="224.90" y1="175.50" x2="224.90" y2="291.20" stroke="#111" stroke-width="1.3" />
<line x1="221.70" y1="290.60" x2="224.90" y2="290.60" stroke="#111" stroke-width="1.1" />
<text x="218.70" y="293.25" font-size="7.5" text-anchor="end" font-weight="normal" fill="#222" >0</text>
<line x1="221.70" y1="267.24" x2="224.90" y2="267.24" stroke="#111" stroke-width="1.1" />
<text x="218.70" y="269.89" font-size="7.5" text-anchor="end" font-weight="normal" fill="#222"  textLength="12.75" lengthAdjust="spacingAndGlyphs">200</text>
<line x1="221.70" y1="243.88" x2="224.90" y2="243.88" stroke="#111" stroke-width="1.1" />
<text x="218.70" y="246.53" font-size="7.5" text-anchor="end" font-weight="normal" fill="#222"  textLength="12.75" lengthAdjust="spacingAndGlyphs">400</text>
<line x1="221.70" y1="220.52" x2="224.90" y2="220.52" stroke="#111" stroke-width="1.1" />
<text x="218.70" y="223.17" font-size="7.5" text-anchor="end" font-weight="normal" fill="#222"  textLength="12.75" lengthAdjust="spacingAndGlyphs">600</text>
<line x1="221.70" y1="197.16" x2="224.90" y2="197.16" stroke="#111" stroke-width="1.1" />
<text x="218.70" y="199.81" font-size="7.5" text-anchor="end" font-weight="normal" fill="#222"  textLength="12.75" lengthAdjust="spacingAndGlyphs">800</text>
<line x1="223.30" y1="290.60" x2="224.90" y2="290.60" stroke="#111" stroke-width="0.9" />
<line x1="223.30" y1="284.76" x2="224.90" y2="284.76" stroke="#111" stroke-width="0.9" />
<line x1="223.30" y1="278.92" x2="224.90" y2="278.92" stroke="#111" stroke-width="0.9" />
<line x1="223.30" y1="273.08" x2="224.90" y2="273.08" stroke="#111" stroke-width="0.9" />
<line x1="223.30" y1="267.24" x2="224.90" y2="267.24" stroke="#111" stroke-width="0.9" />
<line x1="223.30" y1="261.40" x2="224.90" y2="261.40" stroke="#111" stroke-width="0.9" />
<line x1="223.30" y1="255.56" x2="224.90" y2="255.56" stroke="#111" stroke-width="0.9" />
<line x1="223.30" y1="249.72" x2="224.90" y2="249.72" stroke="#111" stroke-width="0.9" />
<line x1="223.30" y1="243.88" x2="224.90" y2="243.88" stroke="#111" stroke-width="0.9" />
<line x1="223.30" y1="238.04" x2="224.90" y2="238.04" stroke="#111" stroke-width="0.9" />
<line x1="223.30" y1="232.20" x2="224.90" y2="232.20" stroke="#111" stroke-width="0.9" />
<line x1="223.30" y1="226.36" x2="224.90" y2="226.36" stroke="#111" stroke-width="0.9" />
<line x1="223.30" y1="220.52" x2="224.90" y2="220.52" stroke="#111" stroke-width="0.9" />
<line x1="223.30" y1="214.68" x2="224.90" y2="214.68" stroke="#111" stroke-width="0.9" />
<line x1="223.30" y1="208.84" x2="224.90" y2="208.84" stroke="#111" stroke-width="0.9" />
<line x1="223.30" y1="203.00" x2="224.90" y2="203.00" stroke="#111" stroke-width="0.9" />
<line x1="223.30" y1="197.16" x2="224.90" y2="197.16" stroke="#111" stroke-width="0.9" />
<line x1="223.30" y1="191.32" x2="224.90" y2="191.32" stroke="#111" stroke-width="0.9" />
<line x1="223.30" y1="185.48" x2="224.90" y2="185.48" stroke="#111" stroke-width="0.9" />
<line x1="223.30" y1="179.64" x2="224.90" y2="179.64" stroke="#111" stroke-width="0.9" />
<line x1="232.73" y1="290.60" x2="232.73" y2="292.20" stroke="#111" stroke-width="0.85" />
<line x1="237.31" y1="290.60" x2="237.31" y2="292.20" stroke="#111" stroke-width="0.85" />
<line x1="240.55" y1="290.60" x2="240.55" y2="292.20" stroke="#111" stroke-width="0.85" />
<line x1="243.07" y1="290.60" x2="243.07" y2="292.20" stroke="#111" stroke-width="0.85" />
<line x1="245.13" y1="290.60" x2="245.13" y2="292.20" stroke="#111" stroke-width="0.85" />
<line x1="246.87" y1="290.60" x2="246.87" y2="292.20" stroke="#111" stroke-width="0.85" />
<line x1="248.38" y1="290.60" x2="248.38" y2="292.20" stroke="#111" stroke-width="0.85" />
<line x1="249.71" y1="290.60" x2="249.71" y2="292.20" stroke="#111" stroke-width="0.85" />
<line x1="250.90" y1="290.60" x2="250.90" y2="293.20" stroke="#111" stroke-width="0.85" />
<line x1="258.73" y1="290.60" x2="258.73" y2="292.20" stroke="#111" stroke-width="0.85" />
<line x1="263.31" y1="290.60" x2="263.31" y2="292.20" stroke="#111" stroke-width="0.85" />
<line x1="266.55" y1="290.60" x2="266.55" y2="292.20" stroke="#111" stroke-width="0.85" />
<line x1="269.07" y1="290.60" x2="269.07" y2="292.20" stroke="#111" stroke-width="0.85" />
<line x1="271.13" y1="290.60" x2="271.13" y2="292.20" stroke="#111" stroke-width="0.85" />
<line x1="272.87" y1="290.60" x2="272.87" y2="292.20" stroke="#111" stroke-width="0.85" />
<line x1="274.38" y1="290.60" x2="274.38" y2="292.20" stroke="#111" stroke-width="0.85" />
<line x1="275.71" y1="290.60" x2="275.71" y2="292.20" stroke="#111" stroke-width="0.85" />
<line x1="276.90" y1="290.60" x2="276.90" y2="293.20" stroke="#111" stroke-width="0.85" />
<line x1="284.73" y1="290.60" x2="284.73" y2="292.20" stroke="#111" stroke-width="0.85" />
<line x1="289.31" y1="290.60" x2="289.31" y2="292.20" stroke="#111" stroke-width="0.85" />
<line x1="292.55" y1="290.60" x2="292.55" y2="292.20" stroke="#111" stroke-width="0.85" />
<line x1="295.07" y1="290.60" x2="295.07" y2="292.20" stroke="#111" stroke-width="0.85" />
<line x1="297.13" y1="290.60" x2="297.13" y2="292.20" stroke="#111" stroke-width="0.85" />
<line x1="298.87" y1="290.60" x2="298.87" y2="292.20" stroke="#111" stroke-width="0.85" />
<line x1="300.38" y1="290.60" x2="300.38" y2="292.20" stroke="#111" stroke-width="0.85" />
<line x1="301.71" y1="290.60" x2="301.71" y2="292.20" stroke="#111" stroke-width="0.85" />
<line x1="302.90" y1="290.60" x2="302.90" y2="293.20" stroke="#111" stroke-width="0.85" />
<line x1="310.73" y1="290.60" x2="310.73" y2="292.20" stroke="#111" stroke-width="0.85" />
<line x1="315.31" y1="290.60" x2="315.31" y2="292.20" stroke="#111" stroke-width="0.85" />
<line x1="318.55" y1="290.60" x2="318.55" y2="292.20" stroke="#111" stroke-width="0.85" />
<line x1="321.07" y1="290.60" x2="321.07" y2="292.20" stroke="#111" stroke-width="0.85" />
<line x1="323.13" y1="290.60" x2="323.13" y2="292.20" stroke="#111" stroke-width="0.85" />
<line x1="324.87" y1="290.60" x2="324.87" y2="292.20" stroke="#111" stroke-width="0.85" />
<line x1="326.38" y1="290.60" x2="326.38" y2="292.20" stroke="#111" stroke-width="0.85" />
<line x1="327.71" y1="290.60" x2="327.71" y2="292.20" stroke="#111" stroke-width="0.85" />
<line x1="328.90" y1="290.60" x2="328.90" y2="293.20" stroke="#111" stroke-width="0.85" />
<line x1="336.73" y1="290.60" x2="336.73" y2="292.20" stroke="#111" stroke-width="0.85" />
<text x="246.50" y="306.90" font-size="7.0" text-anchor="start" font-weight="normal" fill="#222" >10</text>
<text x="254.38" y="304.10" font-size="5.6" text-anchor="start" font-weight="normal" fill="#222" >1</text>
<text x="277.30" y="306.90" font-size="7.0" text-anchor="start" font-weight="normal" fill="#222" >10</text>
<text x="285.18" y="304.10" font-size="5.6" text-anchor="start" font-weight="normal" fill="#222" >2</text>
<text x="300.70" y="306.90" font-size="7.0" text-anchor="start" font-weight="normal" fill="#222" >10</text>
<text x="308.58" y="304.10" font-size="5.6" text-anchor="start" font-weight="normal" fill="#222" >3</text>
<text x="322.70" y="306.90" font-size="7.0" text-anchor="start" font-weight="normal" fill="#222" >10</text>
<text x="330.58" y="304.10" font-size="5.6" text-anchor="start" font-weight="normal" fill="#222" >4</text>
<text x="283.90" y="320.30" font-size="8.6" text-anchor="middle" font-weight="normal" fill="#222"  textLength="56.3" lengthAdjust="spacingAndGlyphs">MAL II binding</text>
<text x="0" y="0" font-size="10.2" text-anchor="middle" fill="#222" transform="translate(200.80,232.80) rotate(-90)" textLength="26.0" lengthAdjust="spacingAndGlyphs">Counts</text>
<path d="M255.20,290.50C255.58,290.08 256.78,289.00 257.50,288.00C258.22,287.00 258.75,285.92 259.50,284.50C260.25,283.08 261.17,281.17 262.00,279.50C262.83,277.83 263.75,275.72 264.50,274.50C265.25,273.28 265.92,272.42 266.50,272.20C267.08,271.98 267.48,272.87 268.00,273.20C268.52,273.53 269.10,274.73 269.60,274.20C270.10,273.67 270.52,271.70 271.00,270.00C271.48,268.30 271.92,266.17 272.50,264.00C273.08,261.83 273.92,258.75 274.50,257.00C275.08,255.25 275.53,254.25 276.00,253.50C276.47,252.75 276.88,252.25 277.30,252.50C277.72,252.75 278.13,253.42 278.50,255.00C278.87,256.58 279.10,259.50 279.50,262.00C279.90,264.50 280.45,267.00 280.90,270.00C281.35,273.00 281.77,277.17 282.20,280.00C282.63,282.83 282.95,285.25 283.50,287.00C284.05,288.75 285.17,289.92 285.50,290.50Z" fill="#999999" stroke="#1a1a1a" stroke-width="1.0" stroke-dasharray="0.9,0.9"/>
<path d="M302.50,290.50C302.83,289.92 304.00,288.75 304.50,287.00C305.00,285.25 305.15,284.50 305.50,280.00C305.85,275.50 306.28,266.67 306.60,260.00C306.92,253.33 307.15,246.67 307.40,240.00C307.65,233.33 307.83,227.17 308.10,220.00C308.37,212.83 308.73,203.00 309.00,197.00C309.27,191.00 309.50,186.90 309.70,184.00C309.90,181.10 310.02,179.60 310.20,179.60C310.38,179.60 310.60,180.60 310.80,184.00C311.00,187.40 311.22,194.00 311.40,200.00C311.58,206.00 311.70,213.33 311.90,220.00C312.10,226.67 312.37,233.33 312.60,240.00C312.83,246.67 313.00,253.33 313.30,260.00C313.60,266.67 314.07,275.42 314.40,280.00C314.73,284.58 314.87,285.75 315.30,287.50C315.73,289.25 316.72,290.00 317.00,290.50" fill="none" stroke="#111" stroke-width="1.25"/>
<line x1="289.80" y1="197.60" x2="300.22" y2="213.40" stroke="#111" stroke-width="1.6" />
<polygon points="304.90,220.50 295.89,214.46 300.39,213.65 302.90,209.84" fill="#111"/>
<line x1="246.00" y1="257.70" x2="253.54" y2="275.19" stroke="#111" stroke-width="1.6" />
<polygon points="256.90,283.00 249.09,275.48 253.66,275.47 256.80,272.15" fill="#111"/>
<text x="266.70" y="191.80" font-size="7.4" text-anchor="middle" font-weight="normal" fill="#222"  textLength="32.3" lengthAdjust="spacingAndGlyphs">Untreated</text>
<text x="266.75" y="200.80" font-size="7.4" text-anchor="middle" font-weight="normal" fill="#222"  textLength="22.1" lengthAdjust="spacingAndGlyphs">EsC3b</text>
<text x="248.40" y="229.00" font-size="7.4" text-anchor="middle" font-weight="normal" fill="#222"  textLength="32.7" lengthAdjust="spacingAndGlyphs">Sialidase-</text>
<text x="248.40" y="237.90" font-size="7.4" text-anchor="middle" font-weight="normal" fill="#222"  textLength="22.7" lengthAdjust="spacingAndGlyphs">treated</text>
<text x="248.40" y="246.90" font-size="7.4" text-anchor="middle" font-weight="normal" fill="#222"  textLength="22.5" lengthAdjust="spacingAndGlyphs">EsC3b</text>
<path d="M396.90,290.60V175.50H513.30V290.60" fill="none" stroke="#111" stroke-width="1.1"/>
<line x1="396.30" y1="290.60" x2="513.80" y2="290.60" stroke="#111" stroke-width="1.3" />
<line x1="396.90" y1="175.50" x2="396.90" y2="291.20" stroke="#111" stroke-width="1.3" />
<line x1="393.70" y1="290.60" x2="396.90" y2="290.60" stroke="#111" stroke-width="1.1" />
<text x="390.60" y="293.25" font-size="7.5" text-anchor="end" font-weight="normal" fill="#222" >0</text>
<line x1="393.70" y1="253.10" x2="396.90" y2="253.10" stroke="#111" stroke-width="1.1" />
<text x="390.60" y="255.75" font-size="7.5" text-anchor="end" font-weight="normal" fill="#222"  textLength="12.75" lengthAdjust="spacingAndGlyphs">100</text>
<line x1="393.70" y1="215.60" x2="396.90" y2="215.60" stroke="#111" stroke-width="1.1" />
<text x="390.60" y="218.25" font-size="7.5" text-anchor="end" font-weight="normal" fill="#222"  textLength="12.75" lengthAdjust="spacingAndGlyphs">200</text>
<line x1="395.30" y1="290.60" x2="396.90" y2="290.60" stroke="#111" stroke-width="0.9" />
<line x1="395.30" y1="281.23" x2="396.90" y2="281.23" stroke="#111" stroke-width="0.9" />
<line x1="395.30" y1="271.85" x2="396.90" y2="271.85" stroke="#111" stroke-width="0.9" />
<line x1="395.30" y1="262.48" x2="396.90" y2="262.48" stroke="#111" stroke-width="0.9" />
<line x1="395.30" y1="253.10" x2="396.90" y2="253.10" stroke="#111" stroke-width="0.9" />
<line x1="395.30" y1="243.73" x2="396.90" y2="243.73" stroke="#111" stroke-width="0.9" />
<line x1="395.30" y1="234.35" x2="396.90" y2="234.35" stroke="#111" stroke-width="0.9" />
<line x1="395.30" y1="224.98" x2="396.90" y2="224.98" stroke="#111" stroke-width="0.9" />
<line x1="395.30" y1="215.60" x2="396.90" y2="215.60" stroke="#111" stroke-width="0.9" />
<line x1="395.30" y1="206.23" x2="396.90" y2="206.23" stroke="#111" stroke-width="0.9" />
<line x1="395.30" y1="196.85" x2="396.90" y2="196.85" stroke="#111" stroke-width="0.9" />
<line x1="395.30" y1="187.48" x2="396.90" y2="187.48" stroke="#111" stroke-width="0.9" />
<line x1="395.30" y1="178.10" x2="396.90" y2="178.10" stroke="#111" stroke-width="0.9" />
<line x1="404.73" y1="290.60" x2="404.73" y2="292.20" stroke="#111" stroke-width="0.85" />
<line x1="409.31" y1="290.60" x2="409.31" y2="292.20" stroke="#111" stroke-width="0.85" />
<line x1="412.55" y1="290.60" x2="412.55" y2="292.20" stroke="#111" stroke-width="0.85" />
<line x1="415.07" y1="290.60" x2="415.07" y2="292.20" stroke="#111" stroke-width="0.85" />
<line x1="417.13" y1="290.60" x2="417.13" y2="292.20" stroke="#111" stroke-width="0.85" />
<line x1="418.87" y1="290.60" x2="418.87" y2="292.20" stroke="#111" stroke-width="0.85" />
<line x1="420.38" y1="290.60" x2="420.38" y2="292.20" stroke="#111" stroke-width="0.85" />
<line x1="421.71" y1="290.60" x2="421.71" y2="292.20" stroke="#111" stroke-width="0.85" />
<line x1="422.90" y1="290.60" x2="422.90" y2="293.20" stroke="#111" stroke-width="0.85" />
<line x1="430.73" y1="290.60" x2="430.73" y2="292.20" stroke="#111" stroke-width="0.85" />
<line x1="435.31" y1="290.60" x2="435.31" y2="292.20" stroke="#111" stroke-width="0.85" />
<line x1="438.55" y1="290.60" x2="438.55" y2="292.20" stroke="#111" stroke-width="0.85" />
<line x1="441.07" y1="290.60" x2="441.07" y2="292.20" stroke="#111" stroke-width="0.85" />
<line x1="443.13" y1="290.60" x2="443.13" y2="292.20" stroke="#111" stroke-width="0.85" />
<line x1="444.87" y1="290.60" x2="444.87" y2="292.20" stroke="#111" stroke-width="0.85" />
<line x1="446.38" y1="290.60" x2="446.38" y2="292.20" stroke="#111" stroke-width="0.85" />
<line x1="447.71" y1="290.60" x2="447.71" y2="292.20" stroke="#111" stroke-width="0.85" />
<line x1="448.90" y1="290.60" x2="448.90" y2="293.20" stroke="#111" stroke-width="0.85" />
<line x1="456.73" y1="290.60" x2="456.73" y2="292.20" stroke="#111" stroke-width="0.85" />
<line x1="461.31" y1="290.60" x2="461.31" y2="292.20" stroke="#111" stroke-width="0.85" />
<line x1="464.55" y1="290.60" x2="464.55" y2="292.20" stroke="#111" stroke-width="0.85" />
<line x1="467.07" y1="290.60" x2="467.07" y2="292.20" stroke="#111" stroke-width="0.85" />
<line x1="469.13" y1="290.60" x2="469.13" y2="292.20" stroke="#111" stroke-width="0.85" />
<line x1="470.87" y1="290.60" x2="470.87" y2="292.20" stroke="#111" stroke-width="0.85" />
<line x1="472.38" y1="290.60" x2="472.38" y2="292.20" stroke="#111" stroke-width="0.85" />
<line x1="473.71" y1="290.60" x2="473.71" y2="292.20" stroke="#111" stroke-width="0.85" />
<line x1="474.90" y1="290.60" x2="474.90" y2="293.20" stroke="#111" stroke-width="0.85" />
<line x1="482.73" y1="290.60" x2="482.73" y2="292.20" stroke="#111" stroke-width="0.85" />
<line x1="487.31" y1="290.60" x2="487.31" y2="292.20" stroke="#111" stroke-width="0.85" />
<line x1="490.55" y1="290.60" x2="490.55" y2="292.20" stroke="#111" stroke-width="0.85" />
<line x1="493.07" y1="290.60" x2="493.07" y2="292.20" stroke="#111" stroke-width="0.85" />
<line x1="495.13" y1="290.60" x2="495.13" y2="292.20" stroke="#111" stroke-width="0.85" />
<line x1="496.87" y1="290.60" x2="496.87" y2="292.20" stroke="#111" stroke-width="0.85" />
<line x1="498.38" y1="290.60" x2="498.38" y2="292.20" stroke="#111" stroke-width="0.85" />
<line x1="499.71" y1="290.60" x2="499.71" y2="292.20" stroke="#111" stroke-width="0.85" />
<line x1="500.90" y1="290.60" x2="500.90" y2="293.20" stroke="#111" stroke-width="0.85" />
<line x1="508.73" y1="290.60" x2="508.73" y2="292.20" stroke="#111" stroke-width="0.85" />
<text x="417.70" y="306.90" font-size="7.0" text-anchor="start" font-weight="normal" fill="#222" >10</text>
<text x="425.58" y="304.10" font-size="5.6" text-anchor="start" font-weight="normal" fill="#222" >1</text>
<text x="448.30" y="306.90" font-size="7.0" text-anchor="start" font-weight="normal" fill="#222" >10</text>
<text x="456.18" y="304.10" font-size="5.6" text-anchor="start" font-weight="normal" fill="#222" >2</text>
<text x="472.00" y="306.90" font-size="7.0" text-anchor="start" font-weight="normal" fill="#222" >10</text>
<text x="479.88" y="304.10" font-size="5.6" text-anchor="start" font-weight="normal" fill="#222" >3</text>
<text x="494.00" y="306.90" font-size="7.0" text-anchor="start" font-weight="normal" fill="#222" >10</text>
<text x="501.88" y="304.10" font-size="5.6" text-anchor="start" font-weight="normal" fill="#222" >4</text>
<text x="455.00" y="320.30" font-size="8.6" text-anchor="middle" font-weight="normal" fill="#222"  textLength="63.5" lengthAdjust="spacingAndGlyphs">Anti-C3c binding</text>
<text x="0" y="0" font-size="10.2" text-anchor="middle" fill="#222" transform="translate(372.50,233.00) rotate(-90)" textLength="26.3" lengthAdjust="spacingAndGlyphs">Counts</text>
<path d="M460.50,290.50C461.75,290.43 466.17,290.30 468.00,290.10C469.83,289.90 470.50,289.68 471.50,289.30C472.50,288.92 473.28,288.52 474.00,287.80C474.72,287.08 475.25,286.05 475.80,285.00C476.35,283.95 476.82,283.50 477.30,281.50C477.78,279.50 478.28,276.08 478.70,273.00C479.12,269.92 479.48,266.50 479.80,263.00C480.12,259.50 480.37,255.08 480.60,252.00C480.83,248.92 481.00,247.50 481.20,244.50C481.40,241.50 481.63,237.25 481.80,234.00C481.97,230.75 482.05,228.83 482.20,225.00C482.35,221.17 482.55,215.33 482.70,211.00C482.85,206.67 482.97,202.67 483.10,199.00C483.23,195.33 483.37,191.63 483.50,189.00C483.63,186.37 483.67,183.78 483.90,183.20C484.13,182.62 484.62,184.87 484.90,185.50C485.18,186.13 485.37,187.17 485.60,187.00C485.83,186.83 486.08,184.67 486.30,184.50C486.52,184.33 486.73,184.75 486.90,186.00C487.07,187.25 487.13,189.17 487.30,192.00C487.47,194.83 487.68,199.17 487.90,203.00C488.12,206.83 488.35,211.17 488.60,215.00C488.85,218.83 489.07,222.50 489.40,226.00C489.73,229.50 490.17,233.25 490.60,236.00C491.03,238.75 491.53,240.92 492.00,242.50C492.47,244.08 492.92,244.35 493.40,245.50C493.88,246.65 494.42,248.43 494.90,249.40C495.38,250.37 495.73,250.82 496.30,251.30C496.87,251.78 497.57,251.93 498.30,252.30C499.03,252.67 500.05,252.63 500.70,253.50C501.35,254.37 501.63,255.75 502.20,257.50C502.77,259.25 503.45,261.95 504.10,264.00C504.75,266.05 505.53,267.85 506.10,269.80C506.67,271.75 507.02,273.75 507.50,275.70C507.98,277.65 508.48,280.03 509.00,281.50C509.52,282.97 510.15,284.17 510.60,284.50C511.05,284.83 511.40,285.08 511.70,283.50C512.00,281.92 512.20,279.75 512.40,275.00C512.60,270.25 512.77,260.83 512.90,255.00C513.03,249.17 513.15,242.50 513.20,240.00L513.2,290.5Z" fill="#999999" stroke="#1a1a1a" stroke-width="1.0" stroke-dasharray="0.9,0.9"/>
<path d="M460.50,290.50C461.75,290.43 466.17,290.30 468.00,290.10C469.83,289.90 470.50,289.68 471.50,289.30C472.50,288.92 473.28,288.52 474.00,287.80C474.72,287.08 475.25,286.05 475.80,285.00C476.35,283.95 476.82,283.50 477.30,281.50C477.78,279.50 478.28,276.08 478.70,273.00C479.12,269.92 479.48,266.50 479.80,263.00C480.12,259.50 480.37,255.08 480.60,252.00C480.83,248.92 481.00,247.50 481.20,244.50C481.40,241.50 481.63,237.25 481.80,234.00C481.97,230.75 482.05,228.83 482.20,225.00C482.35,221.17 482.55,215.33 482.70,211.00C482.85,206.67 482.97,202.67 483.10,199.00C483.23,195.33 483.37,191.63 483.50,189.00C483.63,186.37 483.72,184.32 483.90,183.20C484.08,182.08 484.37,181.90 484.60,182.30C484.83,182.70 485.03,185.32 485.30,185.60C485.57,185.88 485.88,184.55 486.20,184.00C486.52,183.45 486.92,182.13 487.20,182.30C487.48,182.47 487.67,182.55 487.90,185.00C488.13,187.45 488.35,192.83 488.60,197.00C488.85,201.17 489.15,206.17 489.40,210.00C489.65,213.83 489.87,216.83 490.10,220.00C490.33,223.17 490.52,226.33 490.80,229.00C491.08,231.67 491.45,234.23 491.80,236.00C492.15,237.77 492.55,238.43 492.90,239.60C493.25,240.77 493.58,243.02 493.90,243.00C494.22,242.98 494.53,240.15 494.80,239.50C495.07,238.85 495.25,238.02 495.50,239.10C495.75,240.18 495.92,243.97 496.30,246.00C496.68,248.03 497.27,250.25 497.80,251.30C498.33,252.35 498.93,252.02 499.50,252.30C500.07,252.58 500.60,251.55 501.20,253.00C501.80,254.45 502.37,258.52 503.10,261.00C503.83,263.48 504.87,265.78 505.60,267.90C506.33,270.02 506.93,271.75 507.50,273.70C508.07,275.65 508.52,277.97 509.00,279.60C509.48,281.23 510.00,283.02 510.40,283.50C510.80,283.98 511.10,284.42 511.40,282.50C511.70,280.58 511.98,276.58 512.20,272.00C512.42,267.42 512.58,260.40 512.70,255.00C512.82,249.60 512.87,242.17 512.90,239.60" fill="none" stroke="#111" stroke-width="1.1"/>
<line x1="457.70" y1="239.50" x2="487.80" y2="249.03" stroke="#111" stroke-width="1.6" />
<polygon points="495.90,251.60 485.16,252.39 488.08,249.12 487.57,244.77" fill="#111"/>
<line x1="463.20" y1="265.50" x2="497.23" y2="268.46" stroke="#111" stroke-width="1.6" />
<polygon points="505.70,269.20 495.39,272.32 497.53,268.49 496.08,264.35" fill="#111"/>
<text x="439.70" y="225.00" font-size="7.4" text-anchor="middle" font-weight="normal" fill="#222"  textLength="32.4" lengthAdjust="spacingAndGlyphs">Untreated</text>
<text x="439.90" y="233.60" font-size="7.4" text-anchor="middle" font-weight="normal" fill="#222"  textLength="22.4" lengthAdjust="spacingAndGlyphs">EsC3b</text>
<text x="436.20" y="255.75" font-size="7.4" text-anchor="middle" font-weight="normal" fill="#222"  textLength="31.7" lengthAdjust="spacingAndGlyphs">Sialidase-</text>
<text x="435.70" y="264.70" font-size="7.4" text-anchor="middle" font-weight="normal" fill="#222"  textLength="22.1" lengthAdjust="spacingAndGlyphs">treated</text>
<text x="436.10" y="273.10" font-size="7.4" text-anchor="middle" font-weight="normal" fill="#222"  textLength="22.1" lengthAdjust="spacingAndGlyphs">EsC3b</text>
<line x1="84.00" y1="368.00" x2="84.00" y2="493.40" stroke="#111" stroke-width="1.4" />
<line x1="80.90" y1="492.70" x2="84.00" y2="492.70" stroke="#111" stroke-width="1.1" />
<text x="77.60" y="495.40" font-size="7.6" text-anchor="end" font-weight="normal" fill="#222" >0</text>
<line x1="80.90" y1="468.35" x2="84.00" y2="468.35" stroke="#111" stroke-width="1.1" />
<text x="77.60" y="471.05" font-size="7.6" text-anchor="end" font-weight="normal" fill="#222" >20</text>
<line x1="80.90" y1="444.00" x2="84.00" y2="444.00" stroke="#111" stroke-width="1.1" />
<text x="77.60" y="446.70" font-size="7.6" text-anchor="end" font-weight="normal" fill="#222" >40</text>
<line x1="80.90" y1="419.65" x2="84.00" y2="419.65" stroke="#111" stroke-width="1.1" />
<text x="77.60" y="422.35" font-size="7.6" text-anchor="end" font-weight="normal" fill="#222" >60</text>
<line x1="80.90" y1="395.30" x2="84.00" y2="395.30" stroke="#111" stroke-width="1.1" />
<text x="77.60" y="398.00" font-size="7.6" text-anchor="end" font-weight="normal" fill="#222" >80</text>
<line x1="80.90" y1="370.95" x2="84.00" y2="370.95" stroke="#111" stroke-width="1.1" />
<text x="77.60" y="373.65" font-size="7.6" text-anchor="end" font-weight="normal" fill="#222" >100</text>
<line x1="122.65" y1="492.70" x2="122.65" y2="495.20" stroke="#111" stroke-width="1.1" />
<line x1="194.30" y1="492.70" x2="194.30" y2="495.20" stroke="#111" stroke-width="1.1" />
<rect x="101.00" y="407.96" width="21.80" height="84.74" fill="#cccccc" />
<rect x="122.80" y="451.31" width="22.30" height="41.39" fill="#676767" />
<rect x="172.50" y="478.09" width="21.90" height="14.61" fill="#cccccc" />
<rect x="194.40" y="470.18" width="22.30" height="22.52" fill="#676767" />
<line x1="112.10" y1="390.80" x2="112.10" y2="425.50" stroke="#111" stroke-width="1.35" />
<line x1="106.10" y1="390.80" x2="118.10" y2="390.80" stroke="#111" stroke-width="1.35" />
<line x1="106.10" y1="425.50" x2="118.10" y2="425.50" stroke="#111" stroke-width="1.35" />
<line x1="134.20" y1="444.20" x2="134.20" y2="458.30" stroke="#111" stroke-width="1.35" />
<line x1="128.50" y1="444.20" x2="139.90" y2="444.20" stroke="#111" stroke-width="1.35" />
<line x1="128.50" y1="458.30" x2="139.90" y2="458.30" stroke="#111" stroke-width="1.35" />
<line x1="183.40" y1="476.30" x2="183.40" y2="480.80" stroke="#111" stroke-width="1.35" />
<line x1="177.20" y1="476.30" x2="189.60" y2="476.30" stroke="#111" stroke-width="1.35" />
<line x1="177.20" y1="480.80" x2="189.60" y2="480.80" stroke="#111" stroke-width="1.35" />
<line x1="205.00" y1="468.30" x2="205.00" y2="474.50" stroke="#111" stroke-width="1.35" />
<line x1="198.80" y1="468.30" x2="211.20" y2="468.30" stroke="#111" stroke-width="1.35" />
<line x1="198.80" y1="474.50" x2="211.20" y2="474.50" stroke="#111" stroke-width="1.35" />
<rect x="100.70" y="353.50" width="9.50" height="4.20" fill="#cccccc" />
<rect x="100.70" y="364.20" width="9.50" height="4.20" fill="#676767" />
<text x="114.20" y="357.90" font-size="7.6" text-anchor="start" font-weight="normal" fill="#222"  textLength="58.2" lengthAdjust="spacingAndGlyphs">Untreated EsC3b</text>
<text x="114.20" y="369.00" font-size="7.6" text-anchor="start" font-weight="normal" fill="#222"  textLength="81.2" lengthAdjust="spacingAndGlyphs">Sialidase-treated EsC3b</text>
<line x1="111.90" y1="382.40" x2="184.30" y2="382.40" stroke="#111" stroke-width="1.35" />
<line x1="133.60" y1="382.40" x2="133.60" y2="385.10" stroke="#111" stroke-width="1.35" />
<line x1="184.30" y1="382.40" x2="184.30" y2="385.10" stroke="#111" stroke-width="1.35" />
<circle cx="130.90" cy="389.70" r="1.05" fill="#111"/>
<circle cx="134.30" cy="389.70" r="1.05" fill="#111"/>
<circle cx="137.70" cy="389.70" r="1.05" fill="#111"/>
<circle cx="180.10" cy="389.70" r="1.05" fill="#111"/>
<circle cx="183.50" cy="389.70" r="1.05" fill="#111"/>
<circle cx="186.90" cy="389.70" r="1.05" fill="#111"/>
<line x1="134.10" y1="431.80" x2="206.00" y2="431.80" stroke="#111" stroke-width="1.35" />
<circle cx="169.70" cy="427.70" r="1.05" fill="#111"/>
<line x1="183.10" y1="456.80" x2="206.00" y2="456.80" stroke="#111" stroke-width="1.35" />
<text x="194.75" y="454.30" font-size="7.4" text-anchor="middle" font-weight="normal" fill="#222"  textLength="7.9" lengthAdjust="spacingAndGlyphs">ns</text>
<text x="123.00" y="505.90" font-size="7.6" text-anchor="middle" font-weight="normal" fill="#222"  textLength="20.3" lengthAdjust="spacingAndGlyphs">Buffer</text>
<text x="195.65" y="506.00" font-size="7.6" text-anchor="middle" font-weight="normal" fill="#222"  textLength="64.9" lengthAdjust="spacingAndGlyphs">With FH19–20 WT</text>
<line x1="83.30" y1="492.70" x2="233.80" y2="492.70" stroke="#111" stroke-width="1.4" />
<line x1="313.40" y1="369.00" x2="313.40" y2="475.60" stroke="#111" stroke-width="1.4" />
<line x1="310.30" y1="474.90" x2="313.40" y2="474.90" stroke="#111" stroke-width="1.1" />
<text x="307.10" y="477.60" font-size="7.6" text-anchor="end" font-weight="normal" fill="#222" >0</text>
<line x1="310.30" y1="454.24" x2="313.40" y2="454.24" stroke="#111" stroke-width="1.1" />
<text x="307.10" y="456.94" font-size="7.6" text-anchor="end" font-weight="normal" fill="#222" >20</text>
<line x1="310.30" y1="433.58" x2="313.40" y2="433.58" stroke="#111" stroke-width="1.1" />
<text x="307.10" y="436.28" font-size="7.6" text-anchor="end" font-weight="normal" fill="#222" >40</text>
<line x1="310.30" y1="412.92" x2="313.40" y2="412.92" stroke="#111" stroke-width="1.1" />
<text x="307.10" y="415.62" font-size="7.6" text-anchor="end" font-weight="normal" fill="#222" >60</text>
<line x1="310.30" y1="392.26" x2="313.40" y2="392.26" stroke="#111" stroke-width="1.1" />
<text x="307.10" y="394.96" font-size="7.6" text-anchor="end" font-weight="normal" fill="#222" >80</text>
<line x1="310.30" y1="371.60" x2="313.40" y2="371.60" stroke="#111" stroke-width="1.1" />
<text x="307.10" y="374.30" font-size="7.6" text-anchor="end" font-weight="normal" fill="#222" >100</text>
<rect x="319.00" y="403.60" width="20.30" height="71.30" fill="#cccccc" />
<line x1="329.15" y1="388.30" x2="329.15" y2="404.10" stroke="#111" stroke-width="1.35" />
<line x1="323.75" y1="388.30" x2="334.55" y2="388.30" stroke="#111" stroke-width="1.35" />
<line x1="329.15" y1="474.90" x2="329.15" y2="477.90" stroke="#111" stroke-width="1.1" />
<text x="0" y="0" font-size="7.8" text-anchor="end" fill="#222" transform="translate(333.95,486.40) rotate(-45)">PBS</text>
<rect x="349.50" y="463.00" width="20.50" height="11.90" fill="#cccccc" />
<line x1="359.75" y1="461.50" x2="359.75" y2="463.50" stroke="#111" stroke-width="1.35" />
<line x1="354.35" y1="461.50" x2="365.15" y2="461.50" stroke="#111" stroke-width="1.35" />
<line x1="359.75" y1="474.90" x2="359.75" y2="477.90" stroke="#111" stroke-width="1.1" />
<text x="0" y="0" font-size="7.8" text-anchor="end" fill="#222" transform="translate(364.55,486.40) rotate(-45)">WT</text>
<rect x="380.50" y="458.25" width="20.25" height="16.65" fill="#cccccc" />
<line x1="390.62" y1="455.80" x2="390.62" y2="458.75" stroke="#111" stroke-width="1.35" />
<line x1="385.23" y1="455.80" x2="396.02" y2="455.80" stroke="#111" stroke-width="1.35" />
<line x1="390.62" y1="474.90" x2="390.62" y2="477.90" stroke="#111" stroke-width="1.1" />
<text x="0" y="0" font-size="7.8" text-anchor="end" fill="#222" transform="translate(395.43,486.40) rotate(-45)">T1184R</text>
<rect x="411.25" y="448.00" width="20.50" height="26.90" fill="#cccccc" />
<line x1="421.50" y1="443.00" x2="421.50" y2="448.50" stroke="#111" stroke-width="1.35" />
<line x1="416.10" y1="443.00" x2="426.90" y2="443.00" stroke="#111" stroke-width="1.35" />
<line x1="421.50" y1="474.90" x2="421.50" y2="477.90" stroke="#111" stroke-width="1.1" />
<text x="0" y="0" font-size="7.8" text-anchor="end" fill="#222" transform="translate(426.30,486.40) rotate(-45)">L1189R</text>
<rect x="442.50" y="450.25" width="20.25" height="24.65" fill="#cccccc" />
<line x1="452.62" y1="445.50" x2="452.62" y2="450.75" stroke="#111" stroke-width="1.35" />
<line x1="447.23" y1="445.50" x2="458.02" y2="445.50" stroke="#111" stroke-width="1.35" />
<line x1="452.62" y1="474.90" x2="452.62" y2="477.90" stroke="#111" stroke-width="1.1" />
<text x="0" y="0" font-size="7.8" text-anchor="end" fill="#222" transform="translate(457.43,486.40) rotate(-45)">E1198A</text>
<line x1="329.50" y1="374.20" x2="452.50" y2="374.20" stroke="#111" stroke-width="1.35" />
<line x1="359.60" y1="374.20" x2="359.60" y2="376.90" stroke="#111" stroke-width="1.35" />
<line x1="390.75" y1="374.20" x2="390.75" y2="376.90" stroke="#111" stroke-width="1.35" />
<line x1="422.00" y1="374.20" x2="422.00" y2="376.90" stroke="#111" stroke-width="1.35" />
<line x1="452.50" y1="374.20" x2="452.50" y2="376.90" stroke="#111" stroke-width="1.35" />
<circle cx="356.20" cy="381.50" r="1.05" fill="#111"/>
<circle cx="359.60" cy="381.50" r="1.05" fill="#111"/>
<circle cx="363.00" cy="381.50" r="1.05" fill="#111"/>
<circle cx="387.35" cy="381.50" r="1.05" fill="#111"/>
<circle cx="390.75" cy="381.50" r="1.05" fill="#111"/>
<circle cx="394.15" cy="381.50" r="1.05" fill="#111"/>
<circle cx="418.60" cy="381.50" r="1.05" fill="#111"/>
<circle cx="422.00" cy="381.50" r="1.05" fill="#111"/>
<circle cx="425.40" cy="381.50" r="1.05" fill="#111"/>
<circle cx="449.10" cy="381.50" r="1.05" fill="#111"/>
<circle cx="452.50" cy="381.50" r="1.05" fill="#111"/>
<circle cx="455.90" cy="381.50" r="1.05" fill="#111"/>
<line x1="360.10" y1="393.50" x2="452.50" y2="393.50" stroke="#111" stroke-width="1.35" />
<line x1="390.75" y1="393.50" x2="390.75" y2="396.20" stroke="#111" stroke-width="1.35" />
<line x1="422.00" y1="393.50" x2="422.00" y2="396.20" stroke="#111" stroke-width="1.35" />
<line x1="452.50" y1="393.50" x2="452.50" y2="396.20" stroke="#111" stroke-width="1.35" />
<text x="391.10" y="404.90" font-size="7.4" text-anchor="middle" font-weight="normal" fill="#222"  textLength="7.7" lengthAdjust="spacingAndGlyphs">ns</text>
<circle cx="418.60" cy="401.30" r="1.05" fill="#111"/>
<circle cx="422.00" cy="401.30" r="1.05" fill="#111"/>
<circle cx="425.40" cy="401.30" r="1.05" fill="#111"/>
<circle cx="449.10" cy="401.30" r="1.05" fill="#111"/>
<circle cx="452.50" cy="401.30" r="1.05" fill="#111"/>
<circle cx="455.90" cy="401.30" r="1.05" fill="#111"/>
<line x1="390.75" y1="412.50" x2="452.50" y2="412.50" stroke="#111" stroke-width="1.35" />
<line x1="422.00" y1="412.50" x2="422.00" y2="415.20" stroke="#111" stroke-width="1.35" />
<line x1="452.50" y1="412.50" x2="452.50" y2="415.20" stroke="#111" stroke-width="1.35" />
<circle cx="420.30" cy="420.00" r="1.05" fill="#111"/>
<circle cx="423.70" cy="420.00" r="1.05" fill="#111"/>
<circle cx="452.50" cy="420.00" r="1.05" fill="#111"/>
<text x="0" y="0" font-size="9.2" text-anchor="middle" fill="#222" transform="translate(275.80,424.70) rotate(-90)" textLength="51.5" lengthAdjust="spacingAndGlyphs">FH binding to</text>
<text x="0" y="0" font-size="9.2" text-anchor="middle" fill="#222" transform="translate(287.80,423.60) rotate(-90)" textLength="91.5" lengthAdjust="spacingAndGlyphs">untreated EsC3b [GMFI]</text>
<text x="0" y="0" font-size="9.2" text-anchor="middle" fill="#222" transform="translate(60.30,432.00) rotate(-90)" textLength="70.8" lengthAdjust="spacingAndGlyphs">FH binding [GMFI]</text>
<line x1="312.70" y1="474.90" x2="468.60" y2="474.90" stroke="#111" stroke-width="1.4" />
<line x1="315.10" y1="545.30" x2="315.10" y2="649.30" stroke="#111" stroke-width="1.4" />
<line x1="312.00" y1="648.60" x2="315.10" y2="648.60" stroke="#111" stroke-width="1.1" />
<text x="308.60" y="651.30" font-size="7.6" text-anchor="end" font-weight="normal" fill="#222" >0</text>
<line x1="312.00" y1="625.52" x2="315.10" y2="625.52" stroke="#111" stroke-width="1.1" />
<text x="308.60" y="628.22" font-size="7.6" text-anchor="end" font-weight="normal" fill="#222" >10</text>
<line x1="312.00" y1="602.44" x2="315.10" y2="602.44" stroke="#111" stroke-width="1.1" />
<text x="308.60" y="605.14" font-size="7.6" text-anchor="end" font-weight="normal" fill="#222" >20</text>
<line x1="312.00" y1="579.36" x2="315.10" y2="579.36" stroke="#111" stroke-width="1.1" />
<text x="308.60" y="582.06" font-size="7.6" text-anchor="end" font-weight="normal" fill="#222" >30</text>
<line x1="312.00" y1="556.28" x2="315.10" y2="556.28" stroke="#111" stroke-width="1.1" />
<text x="308.60" y="558.98" font-size="7.6" text-anchor="end" font-weight="normal" fill="#222" >40</text>
<rect x="320.00" y="569.25" width="20.20" height="79.35" fill="#cccccc" />
<line x1="330.10" y1="555.75" x2="330.10" y2="569.75" stroke="#111" stroke-width="1.35" />
<line x1="324.70" y1="555.75" x2="335.50" y2="555.75" stroke="#111" stroke-width="1.35" />
<line x1="330.10" y1="648.60" x2="330.10" y2="651.60" stroke="#111" stroke-width="1.1" />
<text x="0" y="0" font-size="7.8" text-anchor="end" fill="#222" transform="translate(335.10,659.60) rotate(-45)">PBS</text>
<rect x="350.75" y="608.00" width="20.50" height="40.60" fill="#cccccc" />
<line x1="361.00" y1="602.00" x2="361.00" y2="608.50" stroke="#111" stroke-width="1.35" />
<line x1="355.60" y1="602.00" x2="366.40" y2="602.00" stroke="#111" stroke-width="1.35" />
<line x1="361.00" y1="648.60" x2="361.00" y2="651.60" stroke="#111" stroke-width="1.1" />
<text x="0" y="0" font-size="7.8" text-anchor="end" fill="#222" transform="translate(366.00,659.60) rotate(-45)">WT</text>
<rect x="381.75" y="600.75" width="20.25" height="47.85" fill="#cccccc" />
<line x1="391.88" y1="590.75" x2="391.88" y2="601.25" stroke="#111" stroke-width="1.35" />
<line x1="386.48" y1="590.75" x2="397.27" y2="590.75" stroke="#111" stroke-width="1.35" />
<line x1="391.88" y1="648.60" x2="391.88" y2="651.60" stroke="#111" stroke-width="1.1" />
<text x="0" y="0" font-size="7.8" text-anchor="end" fill="#222" transform="translate(396.88,659.60) rotate(-45)">T1184R</text>
<rect x="412.50" y="603.75" width="20.00" height="44.85" fill="#cccccc" />
<line x1="422.50" y1="597.00" x2="422.50" y2="604.25" stroke="#111" stroke-width="1.35" />
<line x1="417.10" y1="597.00" x2="427.90" y2="597.00" stroke="#111" stroke-width="1.35" />
<line x1="422.50" y1="648.60" x2="422.50" y2="651.60" stroke="#111" stroke-width="1.1" />
<text x="0" y="0" font-size="7.8" text-anchor="end" fill="#222" transform="translate(427.50,659.60) rotate(-45)">L1189R</text>
<rect x="443.25" y="599.00" width="20.50" height="49.60" fill="#cccccc" />
<line x1="453.50" y1="591.25" x2="453.50" y2="599.50" stroke="#111" stroke-width="1.35" />
<line x1="448.10" y1="591.25" x2="458.90" y2="591.25" stroke="#111" stroke-width="1.35" />
<line x1="453.50" y1="648.60" x2="453.50" y2="651.60" stroke="#111" stroke-width="1.1" />
<text x="0" y="0" font-size="7.8" text-anchor="end" fill="#222" transform="translate(458.50,659.60) rotate(-45)">E1198A</text>
<line x1="330.75" y1="547.70" x2="453.25" y2="547.70" stroke="#111" stroke-width="1.35" />
<line x1="361.25" y1="547.70" x2="361.25" y2="550.40" stroke="#111" stroke-width="1.35" />
<line x1="392.00" y1="547.70" x2="392.00" y2="550.40" stroke="#111" stroke-width="1.35" />
<line x1="422.50" y1="547.70" x2="422.50" y2="550.40" stroke="#111" stroke-width="1.35" />
<line x1="453.25" y1="547.70" x2="453.25" y2="550.40" stroke="#111" stroke-width="1.35" />
<circle cx="357.85" cy="555.00" r="1.05" fill="#111"/>
<circle cx="361.25" cy="555.00" r="1.05" fill="#111"/>
<circle cx="364.65" cy="555.00" r="1.05" fill="#111"/>
<circle cx="388.60" cy="555.00" r="1.05" fill="#111"/>
<circle cx="392.00" cy="555.00" r="1.05" fill="#111"/>
<circle cx="395.40" cy="555.00" r="1.05" fill="#111"/>
<circle cx="419.10" cy="555.00" r="1.05" fill="#111"/>
<circle cx="422.50" cy="555.00" r="1.05" fill="#111"/>
<circle cx="425.90" cy="555.00" r="1.05" fill="#111"/>
<circle cx="449.85" cy="555.00" r="1.05" fill="#111"/>
<circle cx="453.25" cy="555.00" r="1.05" fill="#111"/>
<circle cx="456.65" cy="555.00" r="1.05" fill="#111"/>
<line x1="360.75" y1="570.30" x2="453.25" y2="570.30" stroke="#111" stroke-width="1.35" />
<line x1="392.00" y1="570.30" x2="392.00" y2="573.00" stroke="#111" stroke-width="1.35" />
<line x1="422.50" y1="570.30" x2="422.50" y2="573.00" stroke="#111" stroke-width="1.35" />
<line x1="453.25" y1="570.30" x2="453.25" y2="573.00" stroke="#111" stroke-width="1.35" />
<text x="392.00" y="581.50" font-size="7.4" text-anchor="middle" font-weight="normal" fill="#222"  textLength="7.7" lengthAdjust="spacingAndGlyphs">ns</text>
<text x="422.50" y="581.50" font-size="7.4" text-anchor="middle" font-weight="normal" fill="#222"  textLength="7.7" lengthAdjust="spacingAndGlyphs">ns</text>
<text x="453.25" y="581.50" font-size="7.4" text-anchor="middle" font-weight="normal" fill="#222"  textLength="7.7" lengthAdjust="spacingAndGlyphs">ns</text>
<text x="0" y="0" font-size="9.2" text-anchor="middle" fill="#222" transform="translate(282.70,597.30) rotate(-90)" textLength="87.2" lengthAdjust="spacingAndGlyphs">FH binding to sialidase-</text>
<text x="0" y="0" font-size="9.2" text-anchor="middle" fill="#222" transform="translate(294.10,596.75) rotate(-90)" textLength="82.1" lengthAdjust="spacingAndGlyphs">treated EsC3b [GMFI]</text>
<line x1="314.40" y1="648.60" x2="469.80" y2="648.60" stroke="#111" stroke-width="1.4" />
<line x1="78.20" y1="550.70" x2="78.20" y2="644.90" stroke="#111" stroke-width="1.4" />
<line x1="77.50" y1="644.20" x2="215.00" y2="644.20" stroke="#111" stroke-width="1.4" />
<line x1="75.10" y1="644.20" x2="78.20" y2="644.20" stroke="#111" stroke-width="1.1" />
<text x="71.80" y="646.90" font-size="7.6" text-anchor="end" font-weight="normal" fill="#222" >0</text>
<line x1="75.10" y1="614.20" x2="78.20" y2="614.20" stroke="#111" stroke-width="1.1" />
<text x="71.80" y="616.90" font-size="7.6" text-anchor="end" font-weight="normal" fill="#222" >10</text>
<line x1="75.10" y1="584.20" x2="78.20" y2="584.20" stroke="#111" stroke-width="1.1" />
<text x="71.80" y="586.90" font-size="7.6" text-anchor="end" font-weight="normal" fill="#222" >20</text>
<line x1="75.10" y1="554.20" x2="78.20" y2="554.20" stroke="#111" stroke-width="1.1" />
<text x="71.80" y="556.90" font-size="7.6" text-anchor="end" font-weight="normal" fill="#222" >30</text>
<line x1="78.20" y1="644.20" x2="78.20" y2="647.20" stroke="#111" stroke-width="1.1" />
<text x="78.20" y="655.50" font-size="7.6" text-anchor="middle" font-weight="normal" fill="#222" >0</text>
<line x1="112.25" y1="644.20" x2="112.25" y2="647.20" stroke="#111" stroke-width="1.1" />
<text x="112.25" y="655.50" font-size="7.6" text-anchor="middle" font-weight="normal" fill="#222" >10</text>
<line x1="146.30" y1="644.20" x2="146.30" y2="647.20" stroke="#111" stroke-width="1.1" />
<text x="146.30" y="655.50" font-size="7.6" text-anchor="middle" font-weight="normal" fill="#222" >20</text>
<line x1="180.35" y1="644.20" x2="180.35" y2="647.20" stroke="#111" stroke-width="1.1" />
<text x="180.35" y="655.50" font-size="7.6" text-anchor="middle" font-weight="normal" fill="#222" >30</text>
<line x1="214.40" y1="644.20" x2="214.40" y2="647.20" stroke="#111" stroke-width="1.1" />
<text x="214.40" y="655.50" font-size="7.6" text-anchor="middle" font-weight="normal" fill="#222" >40</text>
<text x="146.20" y="668.70" font-size="9.4" text-anchor="middle" font-weight="normal" fill="#222"  textLength="146.6" lengthAdjust="spacingAndGlyphs">FH19–20 fragment concentration [µm]</text>
<text x="0" y="0" font-size="9.2" text-anchor="middle" fill="#222" transform="translate(45.30,599.30) rotate(-90)" textLength="51.5" lengthAdjust="spacingAndGlyphs">FH binding to</text>
<text x="0" y="0" font-size="9.2" text-anchor="middle" fill="#222" transform="translate(57.60,599.00) rotate(-90)" textLength="90.2" lengthAdjust="spacingAndGlyphs">untreated EsC3b [GMFI]</text>
<polyline points="78.20,569.80 88.42,578.50 98.63,586.30 119.06,594.40 156.51,600.10 197.38,605.80" fill="none" stroke="#111" stroke-width="1.3"/>
<polyline points="78.20,569.80 88.42,581.50 98.63,589.00 119.06,598.30 156.51,607.60 197.38,612.10" fill="none" stroke="#111" stroke-width="1.3"/>
<polyline points="78.20,569.80 88.42,587.80 98.63,597.40 119.06,607.00 156.51,616.90 197.38,619.00" fill="none" stroke="#111" stroke-width="1.3"/>
<polyline points="78.20,569.80 88.42,603.10 98.63,613.90 119.06,620.20 156.51,625.00 197.38,627.40" fill="none" stroke="#111" stroke-width="1.3"/>
<polyline points="78.20,569.80 88.42,616.90 98.63,621.40 119.06,627.10 156.51,629.50 197.38,630.10" fill="none" stroke="#111" stroke-width="1.3"/>
<polyline points="78.20,569.80 88.42,613.90 98.63,621.70 119.06,625.60 156.51,628.00 197.38,631.60" fill="none" stroke="#111" stroke-width="1.3"/>
<rect x="75.60" y="567.20" width="5.20" height="5.20" fill="#fff" stroke="#111" stroke-width="1.2"/>
<rect x="85.82" y="611.30" width="5.20" height="5.20" fill="#fff" stroke="#111" stroke-width="1.2"/>
<rect x="96.03" y="619.10" width="5.20" height="5.20" fill="#fff" stroke="#111" stroke-width="1.2"/>
<rect x="116.46" y="623.00" width="5.20" height="5.20" fill="#fff" stroke="#111" stroke-width="1.2"/>
<rect x="153.91" y="625.40" width="5.20" height="5.20" fill="#fff" stroke="#111" stroke-width="1.2"/>
<rect x="194.78" y="629.00" width="5.20" height="5.20" fill="#fff" stroke="#111" stroke-width="1.2"/>
<circle cx="78.20" cy="569.80" r="2.6" fill="#fff" stroke="#111" stroke-width="1.2"/>
<circle cx="88.42" cy="616.90" r="2.6" fill="#fff" stroke="#111" stroke-width="1.2"/>
<circle cx="98.63" cy="621.40" r="2.6" fill="#fff" stroke="#111" stroke-width="1.2"/>
<circle cx="119.06" cy="627.10" r="2.6" fill="#fff" stroke="#111" stroke-width="1.2"/>
<circle cx="156.51" cy="629.50" r="2.6" fill="#fff" stroke="#111" stroke-width="1.2"/>
<circle cx="197.38" cy="630.10" r="2.6" fill="#fff" stroke="#111" stroke-width="1.2"/>
<polygon points="75.10,567.77 81.30,567.77 78.20,573.36" fill="#fff" stroke="#111" stroke-width="1.2" stroke-linejoin="miter"/>
<polygon points="85.32,601.07 91.52,601.07 88.42,606.65" fill="#fff" stroke="#111" stroke-width="1.2" stroke-linejoin="miter"/>
<polygon points="95.53,611.88 101.73,611.88 98.63,617.46" fill="#fff" stroke="#111" stroke-width="1.2" stroke-linejoin="miter"/>
<polygon points="115.96,618.17 122.16,618.17 119.06,623.75" fill="#fff" stroke="#111" stroke-width="1.2" stroke-linejoin="miter"/>
<polygon points="153.41,622.97 159.61,622.97 156.51,628.55" fill="#fff" stroke="#111" stroke-width="1.2" stroke-linejoin="miter"/>
<polygon points="194.28,625.38 200.47,625.38 197.38,630.96" fill="#fff" stroke="#111" stroke-width="1.2" stroke-linejoin="miter"/>
<polygon points="74.90,569.80 78.20,566.50 81.50,569.80 78.20,573.10" fill="#fff" stroke="#111" stroke-width="1.2"/>
<polygon points="85.12,587.80 88.42,584.50 91.72,587.80 88.42,591.10" fill="#fff" stroke="#111" stroke-width="1.2"/>
<polygon points="95.33,597.40 98.63,594.10 101.93,597.40 98.63,600.70" fill="#fff" stroke="#111" stroke-width="1.2"/>
<polygon points="115.76,607.00 119.06,603.70 122.36,607.00 119.06,610.30" fill="#fff" stroke="#111" stroke-width="1.2"/>
<polygon points="153.21,616.90 156.51,613.60 159.81,616.90 156.51,620.20" fill="#fff" stroke="#111" stroke-width="1.2"/>
<polygon points="194.07,619.00 197.38,615.70 200.68,619.00 197.38,622.30" fill="#fff" stroke="#111" stroke-width="1.2"/>
<polygon points="75.10,572.13 81.30,572.13 78.20,566.55" fill="#fff" stroke="#111" stroke-width="1.2" stroke-linejoin="miter"/>
<polygon points="85.32,583.83 91.52,583.83 88.42,578.25" fill="#fff" stroke="#111" stroke-width="1.2" stroke-linejoin="miter"/>
<polygon points="95.53,591.33 101.73,591.33 98.63,585.75" fill="#fff" stroke="#111" stroke-width="1.2" stroke-linejoin="miter"/>
<polygon points="115.96,600.63 122.16,600.63 119.06,595.05" fill="#fff" stroke="#111" stroke-width="1.2" stroke-linejoin="miter"/>
<polygon points="153.41,609.93 159.61,609.93 156.51,604.35" fill="#fff" stroke="#111" stroke-width="1.2" stroke-linejoin="miter"/>
<polygon points="194.28,614.43 200.47,614.43 197.38,608.85" fill="#fff" stroke="#111" stroke-width="1.2" stroke-linejoin="miter"/>
<path d="M75.34,568.61L81.06,570.99M77.01,566.94L79.39,572.66M79.39,566.94L77.01,572.66M81.06,568.61L75.34,570.99" stroke="#111" stroke-width="1.2" fill="none"/>
<circle cx="78.20" cy="569.80" r="1.7" fill="#111"/>
<path d="M85.55,577.31L91.28,579.69M87.23,575.64L89.60,581.36M89.60,575.64L87.23,581.36M91.28,577.31L85.55,579.69" stroke="#111" stroke-width="1.2" fill="none"/>
<circle cx="88.42" cy="578.50" r="1.7" fill="#111"/>
<path d="M95.77,585.11L101.49,587.49M97.44,583.44L99.82,589.16M99.82,583.44L97.44,589.16M101.49,585.11L95.77,587.49" stroke="#111" stroke-width="1.2" fill="none"/>
<circle cx="98.63" cy="586.30" r="1.7" fill="#111"/>
<path d="M116.20,593.21L121.92,595.59M117.87,591.54L120.25,597.26M120.25,591.54L117.87,597.26M121.92,593.21L116.20,595.59" stroke="#111" stroke-width="1.2" fill="none"/>
<circle cx="119.06" cy="594.40" r="1.7" fill="#111"/>
<path d="M153.65,598.91L159.38,601.29M155.33,597.24L157.70,602.96M157.70,597.24L155.33,602.96M159.38,598.91L153.65,601.29" stroke="#111" stroke-width="1.2" fill="none"/>
<circle cx="156.51" cy="600.10" r="1.7" fill="#111"/>
<path d="M194.51,604.61L200.24,606.99M196.19,602.94L198.56,608.66M198.56,602.94L196.19,608.66M200.24,604.61L194.51,606.99" stroke="#111" stroke-width="1.2" fill="none"/>
<circle cx="197.38" cy="605.80" r="1.7" fill="#111"/>
<path d="M190.44,539.51L196.16,541.89M192.11,537.84L194.49,543.56M194.49,537.84L192.11,543.56M196.16,539.51L190.44,541.89" stroke="#111" stroke-width="1.2" fill="none"/>
<circle cx="193.30" cy="540.70" r="1.7" fill="#111"/>
<text x="201.70" y="543.40" font-size="7.5" text-anchor="start" font-weight="normal" fill="#222" >R1215Q</text>
<polygon points="190.20,553.73 196.40,553.73 193.30,548.14" fill="#fff" stroke="#111" stroke-width="1.2" stroke-linejoin="miter"/>
<text x="201.70" y="554.10" font-size="7.5" text-anchor="start" font-weight="normal" fill="#222" >R1182A</text>
<polygon points="190.00,561.40 193.30,558.10 196.60,561.40 193.30,564.70" fill="#fff" stroke="#111" stroke-width="1.2"/>
<text x="201.70" y="564.10" font-size="7.5" text-anchor="start" font-weight="normal" fill="#222" >L1189R</text>
<polygon points="190.20,569.17 196.40,569.17 193.30,574.75" fill="#fff" stroke="#111" stroke-width="1.2" stroke-linejoin="miter"/>
<text x="201.70" y="573.90" font-size="7.5" text-anchor="start" font-weight="normal" fill="#222" >T1184R</text>
<circle cx="193.30" cy="581.60" r="2.6" fill="#fff" stroke="#111" stroke-width="1.2"/>
<text x="201.70" y="584.30" font-size="7.5" text-anchor="start" font-weight="normal" fill="#222" >W1157L</text>
<rect x="190.70" y="588.80" width="5.20" height="5.20" fill="#fff" stroke="#111" stroke-width="1.2"/>
<text x="201.70" y="594.10" font-size="7.5" text-anchor="start" font-weight="normal" fill="#222" >WT</text>
<rect x="0.5" y="0.5" width="519" height="687" fill="none" stroke="#333" stroke-width="1.2"/>
</svg></body></html>
